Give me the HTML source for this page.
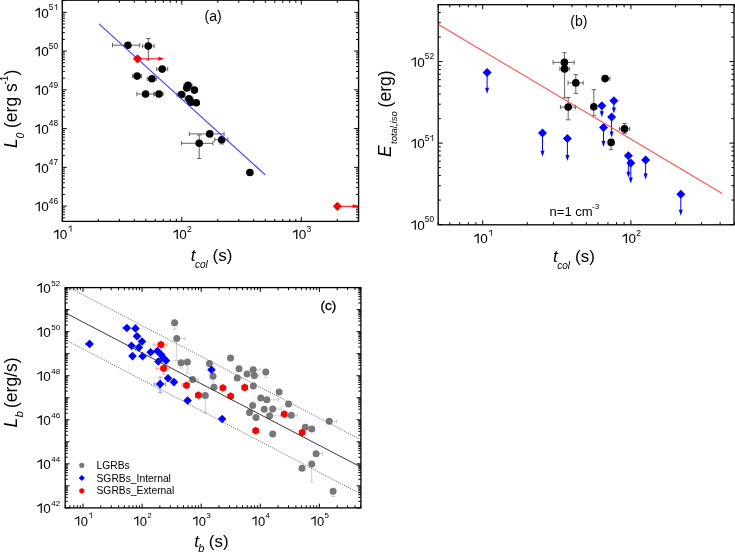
<!DOCTYPE html>
<html><head><meta charset="utf-8"><style>
html,body{margin:0;padding:0;background:#fff;}
svg{display:block;font-family:"Liberation Sans", sans-serif;will-change:transform;filter:blur(0.3px);}
</style></head><body>
<svg width="735" height="553" viewBox="0 0 735 553">
<rect width="735" height="553" fill="#fff"/>
<rect x="62.30" y="0.20" width="296.30" height="221.20" fill="none" stroke="#000" stroke-width="1.3"/>
<line x1="62.30" y1="221.40" x2="62.30" y2="216.90" stroke="#000" stroke-width="1" />
<line x1="62.30" y1="0.20" x2="62.30" y2="4.70" stroke="#000" stroke-width="1" />
<line x1="98.27" y1="221.40" x2="98.27" y2="218.80" stroke="#000" stroke-width="1" />
<line x1="98.27" y1="0.20" x2="98.27" y2="2.80" stroke="#000" stroke-width="1" />
<line x1="119.32" y1="221.40" x2="119.32" y2="218.80" stroke="#000" stroke-width="1" />
<line x1="119.32" y1="0.20" x2="119.32" y2="2.80" stroke="#000" stroke-width="1" />
<line x1="134.25" y1="221.40" x2="134.25" y2="218.80" stroke="#000" stroke-width="1" />
<line x1="134.25" y1="0.20" x2="134.25" y2="2.80" stroke="#000" stroke-width="1" />
<line x1="145.83" y1="221.40" x2="145.83" y2="218.80" stroke="#000" stroke-width="1" />
<line x1="145.83" y1="0.20" x2="145.83" y2="2.80" stroke="#000" stroke-width="1" />
<line x1="155.29" y1="221.40" x2="155.29" y2="218.80" stroke="#000" stroke-width="1" />
<line x1="155.29" y1="0.20" x2="155.29" y2="2.80" stroke="#000" stroke-width="1" />
<line x1="163.29" y1="221.40" x2="163.29" y2="218.80" stroke="#000" stroke-width="1" />
<line x1="163.29" y1="0.20" x2="163.29" y2="2.80" stroke="#000" stroke-width="1" />
<line x1="170.22" y1="221.40" x2="170.22" y2="218.80" stroke="#000" stroke-width="1" />
<line x1="170.22" y1="0.20" x2="170.22" y2="2.80" stroke="#000" stroke-width="1" />
<line x1="176.33" y1="221.40" x2="176.33" y2="218.80" stroke="#000" stroke-width="1" />
<line x1="176.33" y1="0.20" x2="176.33" y2="2.80" stroke="#000" stroke-width="1" />
<line x1="181.80" y1="221.40" x2="181.80" y2="216.90" stroke="#000" stroke-width="1" />
<line x1="181.80" y1="0.20" x2="181.80" y2="4.70" stroke="#000" stroke-width="1" />
<line x1="217.77" y1="221.40" x2="217.77" y2="218.80" stroke="#000" stroke-width="1" />
<line x1="217.77" y1="0.20" x2="217.77" y2="2.80" stroke="#000" stroke-width="1" />
<line x1="238.82" y1="221.40" x2="238.82" y2="218.80" stroke="#000" stroke-width="1" />
<line x1="238.82" y1="0.20" x2="238.82" y2="2.80" stroke="#000" stroke-width="1" />
<line x1="253.75" y1="221.40" x2="253.75" y2="218.80" stroke="#000" stroke-width="1" />
<line x1="253.75" y1="0.20" x2="253.75" y2="2.80" stroke="#000" stroke-width="1" />
<line x1="265.33" y1="221.40" x2="265.33" y2="218.80" stroke="#000" stroke-width="1" />
<line x1="265.33" y1="0.20" x2="265.33" y2="2.80" stroke="#000" stroke-width="1" />
<line x1="274.79" y1="221.40" x2="274.79" y2="218.80" stroke="#000" stroke-width="1" />
<line x1="274.79" y1="0.20" x2="274.79" y2="2.80" stroke="#000" stroke-width="1" />
<line x1="282.79" y1="221.40" x2="282.79" y2="218.80" stroke="#000" stroke-width="1" />
<line x1="282.79" y1="0.20" x2="282.79" y2="2.80" stroke="#000" stroke-width="1" />
<line x1="289.72" y1="221.40" x2="289.72" y2="218.80" stroke="#000" stroke-width="1" />
<line x1="289.72" y1="0.20" x2="289.72" y2="2.80" stroke="#000" stroke-width="1" />
<line x1="295.83" y1="221.40" x2="295.83" y2="218.80" stroke="#000" stroke-width="1" />
<line x1="295.83" y1="0.20" x2="295.83" y2="2.80" stroke="#000" stroke-width="1" />
<line x1="301.30" y1="221.40" x2="301.30" y2="216.90" stroke="#000" stroke-width="1" />
<line x1="301.30" y1="0.20" x2="301.30" y2="4.70" stroke="#000" stroke-width="1" />
<line x1="337.27" y1="221.40" x2="337.27" y2="218.80" stroke="#000" stroke-width="1" />
<line x1="337.27" y1="0.20" x2="337.27" y2="2.80" stroke="#000" stroke-width="1" />
<line x1="358.32" y1="221.40" x2="358.32" y2="218.80" stroke="#000" stroke-width="1" />
<line x1="358.32" y1="0.20" x2="358.32" y2="2.80" stroke="#000" stroke-width="1" />
<line x1="62.30" y1="217.77" x2="64.90" y2="217.77" stroke="#000" stroke-width="1" />
<line x1="358.60" y1="217.77" x2="356.00" y2="217.77" stroke="#000" stroke-width="1" />
<line x1="62.30" y1="214.70" x2="64.90" y2="214.70" stroke="#000" stroke-width="1" />
<line x1="358.60" y1="214.70" x2="356.00" y2="214.70" stroke="#000" stroke-width="1" />
<line x1="62.30" y1="212.10" x2="64.90" y2="212.10" stroke="#000" stroke-width="1" />
<line x1="358.60" y1="212.10" x2="356.00" y2="212.10" stroke="#000" stroke-width="1" />
<line x1="62.30" y1="209.86" x2="64.90" y2="209.86" stroke="#000" stroke-width="1" />
<line x1="358.60" y1="209.86" x2="356.00" y2="209.86" stroke="#000" stroke-width="1" />
<line x1="62.30" y1="207.87" x2="64.90" y2="207.87" stroke="#000" stroke-width="1" />
<line x1="358.60" y1="207.87" x2="356.00" y2="207.87" stroke="#000" stroke-width="1" />
<line x1="62.30" y1="206.10" x2="66.70" y2="206.10" stroke="#000" stroke-width="1" />
<line x1="358.60" y1="206.10" x2="354.20" y2="206.10" stroke="#000" stroke-width="1" />
<line x1="62.30" y1="194.43" x2="64.90" y2="194.43" stroke="#000" stroke-width="1" />
<line x1="358.60" y1="194.43" x2="356.00" y2="194.43" stroke="#000" stroke-width="1" />
<line x1="62.30" y1="187.61" x2="64.90" y2="187.61" stroke="#000" stroke-width="1" />
<line x1="358.60" y1="187.61" x2="356.00" y2="187.61" stroke="#000" stroke-width="1" />
<line x1="62.30" y1="182.76" x2="64.90" y2="182.76" stroke="#000" stroke-width="1" />
<line x1="358.60" y1="182.76" x2="356.00" y2="182.76" stroke="#000" stroke-width="1" />
<line x1="62.30" y1="179.01" x2="64.90" y2="179.01" stroke="#000" stroke-width="1" />
<line x1="358.60" y1="179.01" x2="356.00" y2="179.01" stroke="#000" stroke-width="1" />
<line x1="62.30" y1="175.94" x2="64.90" y2="175.94" stroke="#000" stroke-width="1" />
<line x1="358.60" y1="175.94" x2="356.00" y2="175.94" stroke="#000" stroke-width="1" />
<line x1="62.30" y1="173.34" x2="64.90" y2="173.34" stroke="#000" stroke-width="1" />
<line x1="358.60" y1="173.34" x2="356.00" y2="173.34" stroke="#000" stroke-width="1" />
<line x1="62.30" y1="171.10" x2="64.90" y2="171.10" stroke="#000" stroke-width="1" />
<line x1="358.60" y1="171.10" x2="356.00" y2="171.10" stroke="#000" stroke-width="1" />
<line x1="62.30" y1="169.11" x2="64.90" y2="169.11" stroke="#000" stroke-width="1" />
<line x1="358.60" y1="169.11" x2="356.00" y2="169.11" stroke="#000" stroke-width="1" />
<line x1="62.30" y1="167.34" x2="66.70" y2="167.34" stroke="#000" stroke-width="1" />
<line x1="358.60" y1="167.34" x2="354.20" y2="167.34" stroke="#000" stroke-width="1" />
<line x1="62.30" y1="155.67" x2="64.90" y2="155.67" stroke="#000" stroke-width="1" />
<line x1="358.60" y1="155.67" x2="356.00" y2="155.67" stroke="#000" stroke-width="1" />
<line x1="62.30" y1="148.85" x2="64.90" y2="148.85" stroke="#000" stroke-width="1" />
<line x1="358.60" y1="148.85" x2="356.00" y2="148.85" stroke="#000" stroke-width="1" />
<line x1="62.30" y1="144.00" x2="64.90" y2="144.00" stroke="#000" stroke-width="1" />
<line x1="358.60" y1="144.00" x2="356.00" y2="144.00" stroke="#000" stroke-width="1" />
<line x1="62.30" y1="140.25" x2="64.90" y2="140.25" stroke="#000" stroke-width="1" />
<line x1="358.60" y1="140.25" x2="356.00" y2="140.25" stroke="#000" stroke-width="1" />
<line x1="62.30" y1="137.18" x2="64.90" y2="137.18" stroke="#000" stroke-width="1" />
<line x1="358.60" y1="137.18" x2="356.00" y2="137.18" stroke="#000" stroke-width="1" />
<line x1="62.30" y1="134.58" x2="64.90" y2="134.58" stroke="#000" stroke-width="1" />
<line x1="358.60" y1="134.58" x2="356.00" y2="134.58" stroke="#000" stroke-width="1" />
<line x1="62.30" y1="132.34" x2="64.90" y2="132.34" stroke="#000" stroke-width="1" />
<line x1="358.60" y1="132.34" x2="356.00" y2="132.34" stroke="#000" stroke-width="1" />
<line x1="62.30" y1="130.35" x2="64.90" y2="130.35" stroke="#000" stroke-width="1" />
<line x1="358.60" y1="130.35" x2="356.00" y2="130.35" stroke="#000" stroke-width="1" />
<line x1="62.30" y1="128.58" x2="66.70" y2="128.58" stroke="#000" stroke-width="1" />
<line x1="358.60" y1="128.58" x2="354.20" y2="128.58" stroke="#000" stroke-width="1" />
<line x1="62.30" y1="116.91" x2="64.90" y2="116.91" stroke="#000" stroke-width="1" />
<line x1="358.60" y1="116.91" x2="356.00" y2="116.91" stroke="#000" stroke-width="1" />
<line x1="62.30" y1="110.09" x2="64.90" y2="110.09" stroke="#000" stroke-width="1" />
<line x1="358.60" y1="110.09" x2="356.00" y2="110.09" stroke="#000" stroke-width="1" />
<line x1="62.30" y1="105.24" x2="64.90" y2="105.24" stroke="#000" stroke-width="1" />
<line x1="358.60" y1="105.24" x2="356.00" y2="105.24" stroke="#000" stroke-width="1" />
<line x1="62.30" y1="101.49" x2="64.90" y2="101.49" stroke="#000" stroke-width="1" />
<line x1="358.60" y1="101.49" x2="356.00" y2="101.49" stroke="#000" stroke-width="1" />
<line x1="62.30" y1="98.42" x2="64.90" y2="98.42" stroke="#000" stroke-width="1" />
<line x1="358.60" y1="98.42" x2="356.00" y2="98.42" stroke="#000" stroke-width="1" />
<line x1="62.30" y1="95.82" x2="64.90" y2="95.82" stroke="#000" stroke-width="1" />
<line x1="358.60" y1="95.82" x2="356.00" y2="95.82" stroke="#000" stroke-width="1" />
<line x1="62.30" y1="93.58" x2="64.90" y2="93.58" stroke="#000" stroke-width="1" />
<line x1="358.60" y1="93.58" x2="356.00" y2="93.58" stroke="#000" stroke-width="1" />
<line x1="62.30" y1="91.59" x2="64.90" y2="91.59" stroke="#000" stroke-width="1" />
<line x1="358.60" y1="91.59" x2="356.00" y2="91.59" stroke="#000" stroke-width="1" />
<line x1="62.30" y1="89.82" x2="66.70" y2="89.82" stroke="#000" stroke-width="1" />
<line x1="358.60" y1="89.82" x2="354.20" y2="89.82" stroke="#000" stroke-width="1" />
<line x1="62.30" y1="78.15" x2="64.90" y2="78.15" stroke="#000" stroke-width="1" />
<line x1="358.60" y1="78.15" x2="356.00" y2="78.15" stroke="#000" stroke-width="1" />
<line x1="62.30" y1="71.33" x2="64.90" y2="71.33" stroke="#000" stroke-width="1" />
<line x1="358.60" y1="71.33" x2="356.00" y2="71.33" stroke="#000" stroke-width="1" />
<line x1="62.30" y1="66.48" x2="64.90" y2="66.48" stroke="#000" stroke-width="1" />
<line x1="358.60" y1="66.48" x2="356.00" y2="66.48" stroke="#000" stroke-width="1" />
<line x1="62.30" y1="62.73" x2="64.90" y2="62.73" stroke="#000" stroke-width="1" />
<line x1="358.60" y1="62.73" x2="356.00" y2="62.73" stroke="#000" stroke-width="1" />
<line x1="62.30" y1="59.66" x2="64.90" y2="59.66" stroke="#000" stroke-width="1" />
<line x1="358.60" y1="59.66" x2="356.00" y2="59.66" stroke="#000" stroke-width="1" />
<line x1="62.30" y1="57.06" x2="64.90" y2="57.06" stroke="#000" stroke-width="1" />
<line x1="358.60" y1="57.06" x2="356.00" y2="57.06" stroke="#000" stroke-width="1" />
<line x1="62.30" y1="54.82" x2="64.90" y2="54.82" stroke="#000" stroke-width="1" />
<line x1="358.60" y1="54.82" x2="356.00" y2="54.82" stroke="#000" stroke-width="1" />
<line x1="62.30" y1="52.83" x2="64.90" y2="52.83" stroke="#000" stroke-width="1" />
<line x1="358.60" y1="52.83" x2="356.00" y2="52.83" stroke="#000" stroke-width="1" />
<line x1="62.30" y1="51.06" x2="66.70" y2="51.06" stroke="#000" stroke-width="1" />
<line x1="358.60" y1="51.06" x2="354.20" y2="51.06" stroke="#000" stroke-width="1" />
<line x1="62.30" y1="39.39" x2="64.90" y2="39.39" stroke="#000" stroke-width="1" />
<line x1="358.60" y1="39.39" x2="356.00" y2="39.39" stroke="#000" stroke-width="1" />
<line x1="62.30" y1="32.57" x2="64.90" y2="32.57" stroke="#000" stroke-width="1" />
<line x1="358.60" y1="32.57" x2="356.00" y2="32.57" stroke="#000" stroke-width="1" />
<line x1="62.30" y1="27.72" x2="64.90" y2="27.72" stroke="#000" stroke-width="1" />
<line x1="358.60" y1="27.72" x2="356.00" y2="27.72" stroke="#000" stroke-width="1" />
<line x1="62.30" y1="23.97" x2="64.90" y2="23.97" stroke="#000" stroke-width="1" />
<line x1="358.60" y1="23.97" x2="356.00" y2="23.97" stroke="#000" stroke-width="1" />
<line x1="62.30" y1="20.90" x2="64.90" y2="20.90" stroke="#000" stroke-width="1" />
<line x1="358.60" y1="20.90" x2="356.00" y2="20.90" stroke="#000" stroke-width="1" />
<line x1="62.30" y1="18.30" x2="64.90" y2="18.30" stroke="#000" stroke-width="1" />
<line x1="358.60" y1="18.30" x2="356.00" y2="18.30" stroke="#000" stroke-width="1" />
<line x1="62.30" y1="16.06" x2="64.90" y2="16.06" stroke="#000" stroke-width="1" />
<line x1="358.60" y1="16.06" x2="356.00" y2="16.06" stroke="#000" stroke-width="1" />
<line x1="62.30" y1="14.07" x2="64.90" y2="14.07" stroke="#000" stroke-width="1" />
<line x1="358.60" y1="14.07" x2="356.00" y2="14.07" stroke="#000" stroke-width="1" />
<line x1="62.30" y1="12.30" x2="66.70" y2="12.30" stroke="#000" stroke-width="1" />
<line x1="358.60" y1="12.30" x2="354.20" y2="12.30" stroke="#000" stroke-width="1" />
<line x1="62.30" y1="0.63" x2="64.90" y2="0.63" stroke="#000" stroke-width="1" />
<line x1="358.60" y1="0.63" x2="356.00" y2="0.63" stroke="#000" stroke-width="1" />
<path d="M58.36 239.10L57.14 239.10L57.14 231.13C56.33 231.88 54.98 232.48 53.75 232.78L53.75 231.61C55.52 231.00 56.74 230.06 57.55 229.43L58.36 229.43Z" fill="#000"/>
<text x="59.79" y="239.10" font-size="13.5" text-anchor="start" font-style="normal" font-weight="normal" fill="#000" >0</text>
<path d="M71.42 231.70L70.65 231.70L70.65 226.69C70.14 227.15 69.29 227.53 68.52 227.72L68.52 226.98C69.63 226.60 70.40 226.00 70.91 225.61L71.42 225.61Z" fill="#000"/>
<path d="M177.86 239.10L176.64 239.10L176.64 231.13C175.83 231.88 174.48 232.48 173.25 232.78L173.25 231.61C175.02 231.00 176.24 230.06 177.05 229.43L177.86 229.43Z" fill="#000"/>
<text x="179.29" y="239.10" font-size="13.5" text-anchor="start" font-style="normal" font-weight="normal" fill="#000" >0</text>
<text x="187.09" y="231.70" font-size="8.5" text-anchor="start" font-style="normal" font-weight="normal" fill="#000" >2</text>
<path d="M297.36 239.10L296.14 239.10L296.14 231.13C295.33 231.88 293.98 232.48 292.75 232.78L292.75 231.61C294.52 231.00 295.74 230.06 296.55 229.43L297.36 229.43Z" fill="#000"/>
<text x="298.79" y="239.10" font-size="13.5" text-anchor="start" font-style="normal" font-weight="normal" fill="#000" >0</text>
<text x="306.59" y="231.70" font-size="8.5" text-anchor="start" font-style="normal" font-weight="normal" fill="#000" >3</text>
<path d="M39.83 211.30L38.62 211.30L38.62 203.33C37.81 204.08 36.46 204.68 35.23 204.98L35.23 203.81C37.00 203.20 38.21 202.25 39.02 201.63L39.83 201.63Z" fill="#000"/>
<text x="41.26" y="211.30" font-size="13.5" text-anchor="start" font-style="normal" font-weight="normal" fill="#000" >0</text>
<text x="48.77" y="203.90" font-size="8.3" text-anchor="start" font-style="normal" font-weight="normal" fill="#000" >4</text>
<text x="53.39" y="203.90" font-size="8.3" text-anchor="start" font-style="normal" font-weight="normal" fill="#000" >6</text>
<path d="M39.83 172.54L38.62 172.54L38.62 164.57C37.81 165.32 36.46 165.92 35.23 166.22L35.23 165.05C37.00 164.44 38.21 163.50 39.02 162.87L39.83 162.87Z" fill="#000"/>
<text x="41.26" y="172.54" font-size="13.5" text-anchor="start" font-style="normal" font-weight="normal" fill="#000" >0</text>
<text x="48.77" y="165.14" font-size="8.3" text-anchor="start" font-style="normal" font-weight="normal" fill="#000" >4</text>
<text x="53.39" y="165.14" font-size="8.3" text-anchor="start" font-style="normal" font-weight="normal" fill="#000" >7</text>
<path d="M39.83 133.78L38.62 133.78L38.62 125.81C37.81 126.56 36.46 127.16 35.23 127.46L35.23 126.29C37.00 125.68 38.21 124.73 39.02 124.11L39.83 124.11Z" fill="#000"/>
<text x="41.26" y="133.78" font-size="13.5" text-anchor="start" font-style="normal" font-weight="normal" fill="#000" >0</text>
<text x="48.77" y="126.38" font-size="8.3" text-anchor="start" font-style="normal" font-weight="normal" fill="#000" >4</text>
<text x="53.39" y="126.38" font-size="8.3" text-anchor="start" font-style="normal" font-weight="normal" fill="#000" >8</text>
<path d="M39.83 95.02L38.62 95.02L38.62 87.05C37.81 87.80 36.46 88.41 35.23 88.70L35.23 87.53C37.00 86.92 38.21 85.97 39.02 85.35L39.83 85.35Z" fill="#000"/>
<text x="41.26" y="95.02" font-size="13.5" text-anchor="start" font-style="normal" font-weight="normal" fill="#000" >0</text>
<text x="48.77" y="87.62" font-size="8.3" text-anchor="start" font-style="normal" font-weight="normal" fill="#000" >4</text>
<text x="53.39" y="87.62" font-size="8.3" text-anchor="start" font-style="normal" font-weight="normal" fill="#000" >9</text>
<path d="M39.83 56.26L38.62 56.26L38.62 48.30C37.81 49.04 36.46 49.65 35.23 49.94L35.23 48.77C37.00 48.16 38.21 47.22 39.02 46.59L39.83 46.59Z" fill="#000"/>
<text x="41.26" y="56.26" font-size="13.5" text-anchor="start" font-style="normal" font-weight="normal" fill="#000" >0</text>
<text x="48.77" y="48.86" font-size="8.3" text-anchor="start" font-style="normal" font-weight="normal" fill="#000" >5</text>
<text x="53.39" y="48.86" font-size="8.3" text-anchor="start" font-style="normal" font-weight="normal" fill="#000" >0</text>
<path d="M39.83 17.50L38.62 17.50L38.62 9.54C37.81 10.28 36.46 10.89 35.23 11.18L35.23 10.01C37.00 9.40 38.21 8.46 39.02 7.83L39.83 7.83Z" fill="#000"/>
<text x="41.26" y="17.50" font-size="13.5" text-anchor="start" font-style="normal" font-weight="normal" fill="#000" >0</text>
<text x="48.77" y="10.10" font-size="8.3" text-anchor="start" font-style="normal" font-weight="normal" fill="#000" >5</text>
<path d="M57.12 10.10L56.37 10.10L56.37 5.20C55.88 5.66 55.05 6.03 54.29 6.22L54.29 5.49C55.38 5.12 56.12 4.54 56.62 4.16L57.12 4.16Z" fill="#000"/>
<text x="213.10" y="21.40" font-size="14" text-anchor="middle" font-style="normal" font-weight="normal" fill="#000" >(a)</text>
<line x1="112.50" y1="45.20" x2="139.60" y2="45.20" stroke="#555" stroke-width="0.9" />
<line x1="112.50" y1="43.00" x2="112.50" y2="47.40" stroke="#555" stroke-width="0.9" />
<line x1="139.60" y1="43.00" x2="139.60" y2="47.40" stroke="#555" stroke-width="0.9" />
<line x1="142.40" y1="46.10" x2="154.10" y2="46.10" stroke="#555" stroke-width="0.9" />
<line x1="142.40" y1="43.90" x2="142.40" y2="48.30" stroke="#555" stroke-width="0.9" />
<line x1="154.10" y1="43.90" x2="154.10" y2="48.30" stroke="#555" stroke-width="0.9" />
<line x1="148.30" y1="38.60" x2="148.30" y2="60.00" stroke="#555" stroke-width="0.9" />
<line x1="146.10" y1="38.60" x2="150.50" y2="38.60" stroke="#555" stroke-width="0.9" />
<line x1="146.10" y1="60.00" x2="150.50" y2="60.00" stroke="#555" stroke-width="0.9" />
<line x1="156.80" y1="69.10" x2="167.70" y2="69.10" stroke="#555" stroke-width="0.9" />
<line x1="156.80" y1="66.90" x2="156.80" y2="71.30" stroke="#555" stroke-width="0.9" />
<line x1="167.70" y1="66.90" x2="167.70" y2="71.30" stroke="#555" stroke-width="0.9" />
<line x1="132.40" y1="76.10" x2="141.40" y2="76.10" stroke="#555" stroke-width="0.9" />
<line x1="132.40" y1="73.90" x2="132.40" y2="78.30" stroke="#555" stroke-width="0.9" />
<line x1="141.40" y1="73.90" x2="141.40" y2="78.30" stroke="#555" stroke-width="0.9" />
<line x1="147.20" y1="78.70" x2="156.30" y2="78.70" stroke="#555" stroke-width="0.9" />
<line x1="147.20" y1="76.50" x2="147.20" y2="80.90" stroke="#555" stroke-width="0.9" />
<line x1="156.30" y1="76.50" x2="156.30" y2="80.90" stroke="#555" stroke-width="0.9" />
<line x1="136.90" y1="94.00" x2="154.10" y2="94.00" stroke="#555" stroke-width="0.9" />
<line x1="136.90" y1="91.80" x2="136.90" y2="96.20" stroke="#555" stroke-width="0.9" />
<line x1="154.10" y1="91.80" x2="154.10" y2="96.20" stroke="#555" stroke-width="0.9" />
<line x1="154.10" y1="94.00" x2="163.10" y2="94.00" stroke="#555" stroke-width="0.9" />
<line x1="154.10" y1="91.80" x2="154.10" y2="96.20" stroke="#555" stroke-width="0.9" />
<line x1="163.10" y1="91.80" x2="163.10" y2="96.20" stroke="#555" stroke-width="0.9" />
<line x1="184.00" y1="85.40" x2="192.00" y2="85.40" stroke="#555" stroke-width="0.9" />
<line x1="184.00" y1="83.20" x2="184.00" y2="87.60" stroke="#555" stroke-width="0.9" />
<line x1="192.00" y1="83.20" x2="192.00" y2="87.60" stroke="#555" stroke-width="0.9" />
<line x1="177.00" y1="94.60" x2="185.00" y2="94.60" stroke="#555" stroke-width="0.9" />
<line x1="177.00" y1="92.40" x2="177.00" y2="96.80" stroke="#555" stroke-width="0.9" />
<line x1="185.00" y1="92.40" x2="185.00" y2="96.80" stroke="#555" stroke-width="0.9" />
<line x1="185.00" y1="98.70" x2="193.00" y2="98.70" stroke="#555" stroke-width="0.9" />
<line x1="185.00" y1="96.50" x2="185.00" y2="100.90" stroke="#555" stroke-width="0.9" />
<line x1="193.00" y1="96.50" x2="193.00" y2="100.90" stroke="#555" stroke-width="0.9" />
<line x1="189.40" y1="133.90" x2="224.10" y2="133.90" stroke="#555" stroke-width="0.9" />
<line x1="189.40" y1="131.70" x2="189.40" y2="136.10" stroke="#555" stroke-width="0.9" />
<line x1="224.10" y1="131.70" x2="224.10" y2="136.10" stroke="#555" stroke-width="0.9" />
<line x1="181.40" y1="143.30" x2="213.00" y2="143.30" stroke="#555" stroke-width="0.9" />
<line x1="181.40" y1="141.10" x2="181.40" y2="145.50" stroke="#555" stroke-width="0.9" />
<line x1="213.00" y1="141.10" x2="213.00" y2="145.50" stroke="#555" stroke-width="0.9" />
<line x1="199.20" y1="135.00" x2="199.20" y2="158.50" stroke="#555" stroke-width="0.9" />
<line x1="197.00" y1="135.00" x2="201.40" y2="135.00" stroke="#555" stroke-width="0.9" />
<line x1="197.00" y1="158.50" x2="201.40" y2="158.50" stroke="#555" stroke-width="0.9" />
<line x1="214.70" y1="139.70" x2="227.80" y2="139.70" stroke="#555" stroke-width="0.9" />
<line x1="214.70" y1="137.50" x2="214.70" y2="141.90" stroke="#555" stroke-width="0.9" />
<line x1="227.80" y1="137.50" x2="227.80" y2="141.90" stroke="#555" stroke-width="0.9" />
<line x1="221.70" y1="137.50" x2="221.70" y2="144.00" stroke="#555" stroke-width="0.9" />
<line x1="219.50" y1="137.50" x2="223.90" y2="137.50" stroke="#555" stroke-width="0.9" />
<line x1="219.50" y1="144.00" x2="223.90" y2="144.00" stroke="#555" stroke-width="0.9" />
<circle cx="127.90" cy="45.20" r="3.8" fill="#000"/>
<circle cx="148.30" cy="46.10" r="3.8" fill="#000"/>
<circle cx="162.20" cy="69.10" r="3.8" fill="#000"/>
<circle cx="137.10" cy="76.10" r="3.8" fill="#000"/>
<circle cx="151.90" cy="78.70" r="3.8" fill="#000"/>
<circle cx="145.60" cy="94.00" r="3.8" fill="#000"/>
<circle cx="159.00" cy="94.00" r="3.8" fill="#000"/>
<circle cx="188.00" cy="85.40" r="3.8" fill="#000"/>
<circle cx="186.80" cy="88.00" r="3.8" fill="#000"/>
<circle cx="194.40" cy="90.10" r="3.8" fill="#000"/>
<circle cx="181.40" cy="94.60" r="3.8" fill="#000"/>
<circle cx="189.00" cy="98.70" r="3.8" fill="#000"/>
<circle cx="190.90" cy="102.20" r="3.8" fill="#000"/>
<circle cx="196.30" cy="102.80" r="3.8" fill="#000"/>
<circle cx="209.70" cy="133.90" r="3.8" fill="#000"/>
<circle cx="199.20" cy="143.30" r="3.8" fill="#000"/>
<circle cx="221.70" cy="139.70" r="3.8" fill="#000"/>
<circle cx="249.90" cy="172.50" r="3.8" fill="#000"/>
<line x1="99.00" y1="23.90" x2="265.10" y2="174.70" stroke="#4040ff" stroke-width="1.15" />
<line x1="137.50" y1="58.80" x2="160.30" y2="58.80" stroke="#ff0000" stroke-width="1" />
<path d="M164.30 58.80L158.30 56.80L158.30 60.80Z" fill="#ff0000"/>
<path d="M137.50 54.20L142.10 58.80L137.50 63.40L132.90 58.80Z" fill="#ff0000"/>
<line x1="337.40" y1="206.30" x2="354.60" y2="206.30" stroke="#ff0000" stroke-width="1" />
<path d="M358.60 206.30L352.60 204.30L352.60 208.30Z" fill="#ff0000"/>
<path d="M337.40 201.70L342.00 206.30L337.40 210.90L332.80 206.30Z" fill="#ff0000"/>
<text x="190.80" y="260.50" font-size="17" text-anchor="start" font-style="italic" font-weight="normal" fill="#000" >t</text>
<text x="194.90" y="267.50" font-size="10" text-anchor="start" font-style="italic" font-weight="normal" fill="#000" >col</text>
<text x="212.50" y="260.50" font-size="17" text-anchor="start" font-style="normal" font-weight="normal" fill="#000" >(s)</text>
<g transform="translate(16.6,148) rotate(-90)"><text x="0" y="0" font-size="17.5" font-style="italic">L</text><text x="9.5" y="7" font-size="10.5" font-style="italic">0</text><text x="20" y="0" font-size="17.5">(erg s</text><text x="63.5" y="-9" font-size="10">-1</text><text x="72.5" y="0" font-size="17.5">)</text></g>
<rect x="438.20" y="4.70" width="295.80" height="220.10" fill="none" stroke="#000" stroke-width="1.3"/>
<line x1="438.09" y1="224.80" x2="438.09" y2="222.20" stroke="#000" stroke-width="1" />
<line x1="438.09" y1="4.70" x2="438.09" y2="7.30" stroke="#000" stroke-width="1" />
<line x1="449.82" y1="224.80" x2="449.82" y2="222.20" stroke="#000" stroke-width="1" />
<line x1="449.82" y1="4.70" x2="449.82" y2="7.30" stroke="#000" stroke-width="1" />
<line x1="459.74" y1="224.80" x2="459.74" y2="222.20" stroke="#000" stroke-width="1" />
<line x1="459.74" y1="4.70" x2="459.74" y2="7.30" stroke="#000" stroke-width="1" />
<line x1="468.34" y1="224.80" x2="468.34" y2="222.20" stroke="#000" stroke-width="1" />
<line x1="468.34" y1="4.70" x2="468.34" y2="7.30" stroke="#000" stroke-width="1" />
<line x1="475.92" y1="224.80" x2="475.92" y2="222.20" stroke="#000" stroke-width="1" />
<line x1="475.92" y1="4.70" x2="475.92" y2="7.30" stroke="#000" stroke-width="1" />
<line x1="482.70" y1="224.80" x2="482.70" y2="220.30" stroke="#000" stroke-width="1" />
<line x1="482.70" y1="4.70" x2="482.70" y2="9.20" stroke="#000" stroke-width="1" />
<line x1="527.31" y1="224.80" x2="527.31" y2="222.20" stroke="#000" stroke-width="1" />
<line x1="527.31" y1="4.70" x2="527.31" y2="7.30" stroke="#000" stroke-width="1" />
<line x1="553.41" y1="224.80" x2="553.41" y2="222.20" stroke="#000" stroke-width="1" />
<line x1="553.41" y1="4.70" x2="553.41" y2="7.30" stroke="#000" stroke-width="1" />
<line x1="571.93" y1="224.80" x2="571.93" y2="222.20" stroke="#000" stroke-width="1" />
<line x1="571.93" y1="4.70" x2="571.93" y2="7.30" stroke="#000" stroke-width="1" />
<line x1="586.29" y1="224.80" x2="586.29" y2="222.20" stroke="#000" stroke-width="1" />
<line x1="586.29" y1="4.70" x2="586.29" y2="7.30" stroke="#000" stroke-width="1" />
<line x1="598.02" y1="224.80" x2="598.02" y2="222.20" stroke="#000" stroke-width="1" />
<line x1="598.02" y1="4.70" x2="598.02" y2="7.30" stroke="#000" stroke-width="1" />
<line x1="607.94" y1="224.80" x2="607.94" y2="222.20" stroke="#000" stroke-width="1" />
<line x1="607.94" y1="4.70" x2="607.94" y2="7.30" stroke="#000" stroke-width="1" />
<line x1="616.54" y1="224.80" x2="616.54" y2="222.20" stroke="#000" stroke-width="1" />
<line x1="616.54" y1="4.70" x2="616.54" y2="7.30" stroke="#000" stroke-width="1" />
<line x1="624.12" y1="224.80" x2="624.12" y2="222.20" stroke="#000" stroke-width="1" />
<line x1="624.12" y1="4.70" x2="624.12" y2="7.30" stroke="#000" stroke-width="1" />
<line x1="630.90" y1="224.80" x2="630.90" y2="220.30" stroke="#000" stroke-width="1" />
<line x1="630.90" y1="4.70" x2="630.90" y2="9.20" stroke="#000" stroke-width="1" />
<line x1="675.51" y1="224.80" x2="675.51" y2="222.20" stroke="#000" stroke-width="1" />
<line x1="675.51" y1="4.70" x2="675.51" y2="7.30" stroke="#000" stroke-width="1" />
<line x1="701.61" y1="224.80" x2="701.61" y2="222.20" stroke="#000" stroke-width="1" />
<line x1="701.61" y1="4.70" x2="701.61" y2="7.30" stroke="#000" stroke-width="1" />
<line x1="720.13" y1="224.80" x2="720.13" y2="222.20" stroke="#000" stroke-width="1" />
<line x1="720.13" y1="4.70" x2="720.13" y2="7.30" stroke="#000" stroke-width="1" />
<line x1="734.49" y1="224.80" x2="734.49" y2="222.20" stroke="#000" stroke-width="1" />
<line x1="734.49" y1="4.70" x2="734.49" y2="7.30" stroke="#000" stroke-width="1" />
<line x1="438.20" y1="224.60" x2="442.70" y2="224.60" stroke="#000" stroke-width="1" />
<line x1="734.00" y1="224.60" x2="729.50" y2="224.60" stroke="#000" stroke-width="1" />
<line x1="438.20" y1="200.07" x2="440.80" y2="200.07" stroke="#000" stroke-width="1" />
<line x1="734.00" y1="200.07" x2="731.40" y2="200.07" stroke="#000" stroke-width="1" />
<line x1="438.20" y1="185.71" x2="440.80" y2="185.71" stroke="#000" stroke-width="1" />
<line x1="734.00" y1="185.71" x2="731.40" y2="185.71" stroke="#000" stroke-width="1" />
<line x1="438.20" y1="175.53" x2="440.80" y2="175.53" stroke="#000" stroke-width="1" />
<line x1="734.00" y1="175.53" x2="731.40" y2="175.53" stroke="#000" stroke-width="1" />
<line x1="438.20" y1="167.63" x2="440.80" y2="167.63" stroke="#000" stroke-width="1" />
<line x1="734.00" y1="167.63" x2="731.40" y2="167.63" stroke="#000" stroke-width="1" />
<line x1="438.20" y1="161.18" x2="440.80" y2="161.18" stroke="#000" stroke-width="1" />
<line x1="734.00" y1="161.18" x2="731.40" y2="161.18" stroke="#000" stroke-width="1" />
<line x1="438.20" y1="155.72" x2="440.80" y2="155.72" stroke="#000" stroke-width="1" />
<line x1="734.00" y1="155.72" x2="731.40" y2="155.72" stroke="#000" stroke-width="1" />
<line x1="438.20" y1="151.00" x2="440.80" y2="151.00" stroke="#000" stroke-width="1" />
<line x1="734.00" y1="151.00" x2="731.40" y2="151.00" stroke="#000" stroke-width="1" />
<line x1="438.20" y1="146.83" x2="440.80" y2="146.83" stroke="#000" stroke-width="1" />
<line x1="734.00" y1="146.83" x2="731.40" y2="146.83" stroke="#000" stroke-width="1" />
<line x1="438.20" y1="143.10" x2="442.70" y2="143.10" stroke="#000" stroke-width="1" />
<line x1="734.00" y1="143.10" x2="729.50" y2="143.10" stroke="#000" stroke-width="1" />
<line x1="438.20" y1="118.57" x2="440.80" y2="118.57" stroke="#000" stroke-width="1" />
<line x1="734.00" y1="118.57" x2="731.40" y2="118.57" stroke="#000" stroke-width="1" />
<line x1="438.20" y1="104.21" x2="440.80" y2="104.21" stroke="#000" stroke-width="1" />
<line x1="734.00" y1="104.21" x2="731.40" y2="104.21" stroke="#000" stroke-width="1" />
<line x1="438.20" y1="94.03" x2="440.80" y2="94.03" stroke="#000" stroke-width="1" />
<line x1="734.00" y1="94.03" x2="731.40" y2="94.03" stroke="#000" stroke-width="1" />
<line x1="438.20" y1="86.13" x2="440.80" y2="86.13" stroke="#000" stroke-width="1" />
<line x1="734.00" y1="86.13" x2="731.40" y2="86.13" stroke="#000" stroke-width="1" />
<line x1="438.20" y1="79.68" x2="440.80" y2="79.68" stroke="#000" stroke-width="1" />
<line x1="734.00" y1="79.68" x2="731.40" y2="79.68" stroke="#000" stroke-width="1" />
<line x1="438.20" y1="74.22" x2="440.80" y2="74.22" stroke="#000" stroke-width="1" />
<line x1="734.00" y1="74.22" x2="731.40" y2="74.22" stroke="#000" stroke-width="1" />
<line x1="438.20" y1="69.50" x2="440.80" y2="69.50" stroke="#000" stroke-width="1" />
<line x1="734.00" y1="69.50" x2="731.40" y2="69.50" stroke="#000" stroke-width="1" />
<line x1="438.20" y1="65.33" x2="440.80" y2="65.33" stroke="#000" stroke-width="1" />
<line x1="734.00" y1="65.33" x2="731.40" y2="65.33" stroke="#000" stroke-width="1" />
<line x1="438.20" y1="61.60" x2="442.70" y2="61.60" stroke="#000" stroke-width="1" />
<line x1="734.00" y1="61.60" x2="729.50" y2="61.60" stroke="#000" stroke-width="1" />
<line x1="438.20" y1="37.07" x2="440.80" y2="37.07" stroke="#000" stroke-width="1" />
<line x1="734.00" y1="37.07" x2="731.40" y2="37.07" stroke="#000" stroke-width="1" />
<line x1="438.20" y1="22.71" x2="440.80" y2="22.71" stroke="#000" stroke-width="1" />
<line x1="734.00" y1="22.71" x2="731.40" y2="22.71" stroke="#000" stroke-width="1" />
<line x1="438.20" y1="12.53" x2="440.80" y2="12.53" stroke="#000" stroke-width="1" />
<line x1="734.00" y1="12.53" x2="731.40" y2="12.53" stroke="#000" stroke-width="1" />
<line x1="438.20" y1="4.63" x2="440.80" y2="4.63" stroke="#000" stroke-width="1" />
<line x1="734.00" y1="4.63" x2="731.40" y2="4.63" stroke="#000" stroke-width="1" />
<path d="M478.76 243.20L477.54 243.20L477.54 235.23C476.73 235.98 475.38 236.58 474.15 236.88L474.15 235.71C475.92 235.10 477.14 234.16 477.95 233.53L478.76 233.53Z" fill="#000"/>
<text x="480.19" y="243.20" font-size="13.5" text-anchor="start" font-style="normal" font-weight="normal" fill="#000" >0</text>
<path d="M491.82 235.80L491.05 235.80L491.05 230.78C490.54 231.25 489.69 231.63 488.92 231.82L488.92 231.08C490.03 230.70 490.80 230.10 491.31 229.71L491.82 229.71Z" fill="#000"/>
<path d="M626.96 243.20L625.74 243.20L625.74 235.23C624.93 235.98 623.58 236.58 622.35 236.88L622.35 235.71C624.12 235.10 625.34 234.16 626.15 233.53L626.96 233.53Z" fill="#000"/>
<text x="628.39" y="243.20" font-size="13.5" text-anchor="start" font-style="normal" font-weight="normal" fill="#000" >0</text>
<text x="636.19" y="235.80" font-size="8.5" text-anchor="start" font-style="normal" font-weight="normal" fill="#000" >2</text>
<path d="M415.83 229.80L414.62 229.80L414.62 221.83C413.81 222.58 412.46 223.18 411.23 223.48L411.23 222.31C413.00 221.70 414.21 220.75 415.02 220.13L415.83 220.13Z" fill="#000"/>
<text x="417.26" y="229.80" font-size="13.5" text-anchor="start" font-style="normal" font-weight="normal" fill="#000" >0</text>
<text x="424.77" y="222.40" font-size="8.3" text-anchor="start" font-style="normal" font-weight="normal" fill="#000" >5</text>
<text x="429.39" y="222.40" font-size="8.3" text-anchor="start" font-style="normal" font-weight="normal" fill="#000" >0</text>
<path d="M415.83 148.30L414.62 148.30L414.62 140.33C413.81 141.08 412.46 141.68 411.23 141.98L411.23 140.81C413.00 140.20 414.21 139.25 415.02 138.63L415.83 138.63Z" fill="#000"/>
<text x="417.26" y="148.30" font-size="13.5" text-anchor="start" font-style="normal" font-weight="normal" fill="#000" >0</text>
<text x="424.77" y="140.90" font-size="8.3" text-anchor="start" font-style="normal" font-weight="normal" fill="#000" >5</text>
<path d="M433.12 140.90L432.37 140.90L432.37 136.00C431.88 136.46 431.05 136.83 430.29 137.02L430.29 136.29C431.38 135.92 432.12 135.34 432.62 134.96L433.12 134.96Z" fill="#000"/>
<path d="M415.83 66.80L414.62 66.80L414.62 58.83C413.81 59.58 412.46 60.18 411.23 60.48L411.23 59.31C413.00 58.70 414.21 57.75 415.02 57.13L415.83 57.13Z" fill="#000"/>
<text x="417.26" y="66.80" font-size="13.5" text-anchor="start" font-style="normal" font-weight="normal" fill="#000" >0</text>
<text x="424.77" y="59.40" font-size="8.3" text-anchor="start" font-style="normal" font-weight="normal" fill="#000" >5</text>
<text x="429.39" y="59.40" font-size="8.3" text-anchor="start" font-style="normal" font-weight="normal" fill="#000" >2</text>
<text x="578.80" y="26.00" font-size="14" text-anchor="middle" font-style="normal" font-weight="normal" fill="#000" >(b)</text>
<line x1="553.00" y1="62.40" x2="574.20" y2="62.40" stroke="#555" stroke-width="0.9" />
<line x1="553.00" y1="60.20" x2="553.00" y2="64.60" stroke="#555" stroke-width="0.9" />
<line x1="574.20" y1="60.20" x2="574.20" y2="64.60" stroke="#555" stroke-width="0.9" />
<line x1="564.40" y1="52.70" x2="564.40" y2="62.40" stroke="#555" stroke-width="0.9" />
<line x1="562.20" y1="52.70" x2="566.60" y2="52.70" stroke="#555" stroke-width="0.9" />
<line x1="562.20" y1="62.40" x2="566.60" y2="62.40" stroke="#555" stroke-width="0.9" />
<line x1="559.90" y1="68.90" x2="569.30" y2="68.90" stroke="#555" stroke-width="0.9" />
<line x1="559.90" y1="66.70" x2="559.90" y2="71.10" stroke="#555" stroke-width="0.9" />
<line x1="569.30" y1="66.70" x2="569.30" y2="71.10" stroke="#555" stroke-width="0.9" />
<line x1="564.60" y1="68.90" x2="564.60" y2="97.80" stroke="#555" stroke-width="0.9" />
<line x1="562.40" y1="68.90" x2="566.80" y2="68.90" stroke="#555" stroke-width="0.9" />
<line x1="562.40" y1="97.80" x2="566.80" y2="97.80" stroke="#555" stroke-width="0.9" />
<line x1="568.00" y1="82.90" x2="583.20" y2="82.90" stroke="#555" stroke-width="0.9" />
<line x1="568.00" y1="80.70" x2="568.00" y2="85.10" stroke="#555" stroke-width="0.9" />
<line x1="583.20" y1="80.70" x2="583.20" y2="85.10" stroke="#555" stroke-width="0.9" />
<line x1="575.80" y1="74.70" x2="575.80" y2="93.40" stroke="#555" stroke-width="0.9" />
<line x1="573.60" y1="74.70" x2="578.00" y2="74.70" stroke="#555" stroke-width="0.9" />
<line x1="573.60" y1="93.40" x2="578.00" y2="93.40" stroke="#555" stroke-width="0.9" />
<line x1="605.10" y1="78.60" x2="610.00" y2="78.60" stroke="#555" stroke-width="0.9" />
<line x1="605.10" y1="76.40" x2="605.10" y2="80.80" stroke="#555" stroke-width="0.9" />
<line x1="610.00" y1="76.40" x2="610.00" y2="80.80" stroke="#555" stroke-width="0.9" />
<line x1="560.40" y1="107.10" x2="575.50" y2="107.10" stroke="#555" stroke-width="0.9" />
<line x1="560.40" y1="104.90" x2="560.40" y2="109.30" stroke="#555" stroke-width="0.9" />
<line x1="575.50" y1="104.90" x2="575.50" y2="109.30" stroke="#555" stroke-width="0.9" />
<line x1="568.20" y1="97.50" x2="568.20" y2="119.80" stroke="#555" stroke-width="0.9" />
<line x1="566.00" y1="97.50" x2="570.40" y2="97.50" stroke="#555" stroke-width="0.9" />
<line x1="566.00" y1="119.80" x2="570.40" y2="119.80" stroke="#555" stroke-width="0.9" />
<line x1="593.80" y1="89.70" x2="593.80" y2="115.70" stroke="#555" stroke-width="0.9" />
<line x1="591.60" y1="89.70" x2="596.00" y2="89.70" stroke="#555" stroke-width="0.9" />
<line x1="591.60" y1="115.70" x2="596.00" y2="115.70" stroke="#555" stroke-width="0.9" />
<line x1="619.40" y1="128.90" x2="629.70" y2="128.90" stroke="#555" stroke-width="0.9" />
<line x1="619.40" y1="126.70" x2="619.40" y2="131.10" stroke="#555" stroke-width="0.9" />
<line x1="629.70" y1="126.70" x2="629.70" y2="131.10" stroke="#555" stroke-width="0.9" />
<line x1="624.50" y1="123.50" x2="624.50" y2="133.40" stroke="#555" stroke-width="0.9" />
<line x1="622.30" y1="123.50" x2="626.70" y2="123.50" stroke="#555" stroke-width="0.9" />
<line x1="622.30" y1="133.40" x2="626.70" y2="133.40" stroke="#555" stroke-width="0.9" />
<line x1="611.10" y1="142.40" x2="611.10" y2="149.70" stroke="#555" stroke-width="0.9" />
<line x1="608.90" y1="142.40" x2="613.30" y2="142.40" stroke="#555" stroke-width="0.9" />
<line x1="608.90" y1="149.70" x2="613.30" y2="149.70" stroke="#555" stroke-width="0.9" />
<circle cx="564.40" cy="62.40" r="3.8" fill="#000"/>
<circle cx="564.60" cy="68.90" r="3.8" fill="#000"/>
<circle cx="575.80" cy="82.90" r="3.8" fill="#000"/>
<circle cx="605.10" cy="78.60" r="3.8" fill="#000"/>
<circle cx="568.20" cy="107.10" r="3.8" fill="#000"/>
<circle cx="593.80" cy="106.80" r="3.8" fill="#000"/>
<circle cx="624.50" cy="128.90" r="3.8" fill="#000"/>
<circle cx="611.10" cy="142.40" r="3.8" fill="#000"/>
<line x1="487.10" y1="72.40" x2="487.10" y2="89.80" stroke="#0000ff" stroke-width="1" />
<path d="M487.10 93.80L485.10 87.80L489.10 87.80Z" fill="#0000ff"/>
<line x1="542.50" y1="132.90" x2="542.50" y2="152.80" stroke="#0000ff" stroke-width="1" />
<path d="M542.50 156.80L540.50 150.80L544.50 150.80Z" fill="#0000ff"/>
<line x1="567.40" y1="138.50" x2="567.40" y2="157.10" stroke="#0000ff" stroke-width="1" />
<path d="M567.40 161.10L565.40 155.10L569.40 155.10Z" fill="#0000ff"/>
<line x1="601.80" y1="105.80" x2="601.80" y2="113.20" stroke="#0000ff" stroke-width="1" />
<path d="M601.80 117.20L599.80 111.20L603.80 111.20Z" fill="#0000ff"/>
<line x1="613.90" y1="100.80" x2="613.90" y2="109.40" stroke="#0000ff" stroke-width="1" />
<path d="M613.90 113.40L611.90 107.40L615.90 107.40Z" fill="#0000ff"/>
<line x1="611.60" y1="117.10" x2="611.60" y2="133.40" stroke="#0000ff" stroke-width="1" />
<path d="M611.60 137.40L609.60 131.40L613.60 131.40Z" fill="#0000ff"/>
<line x1="603.50" y1="127.40" x2="603.50" y2="143.00" stroke="#0000ff" stroke-width="1" />
<path d="M603.50 147.00L601.50 141.00L605.50 141.00Z" fill="#0000ff"/>
<line x1="628.40" y1="155.70" x2="628.40" y2="173.80" stroke="#0000ff" stroke-width="1" />
<path d="M628.40 177.80L626.40 171.80L630.40 171.80Z" fill="#0000ff"/>
<line x1="630.80" y1="163.10" x2="630.80" y2="179.50" stroke="#0000ff" stroke-width="1" />
<path d="M630.80 183.50L628.80 177.50L632.80 177.50Z" fill="#0000ff"/>
<line x1="645.60" y1="159.90" x2="645.60" y2="175.40" stroke="#0000ff" stroke-width="1" />
<path d="M645.60 179.40L643.60 173.40L647.60 173.40Z" fill="#0000ff"/>
<line x1="680.80" y1="194.30" x2="680.80" y2="211.70" stroke="#0000ff" stroke-width="1" />
<path d="M680.80 215.70L678.80 209.70L682.80 209.70Z" fill="#0000ff"/>
<path d="M487.10 67.90L491.60 72.40L487.10 76.90L482.60 72.40Z" fill="#0000ff"/>
<path d="M542.50 128.40L547.00 132.90L542.50 137.40L538.00 132.90Z" fill="#0000ff"/>
<path d="M567.40 134.00L571.90 138.50L567.40 143.00L562.90 138.50Z" fill="#0000ff"/>
<path d="M601.80 101.30L606.30 105.80L601.80 110.30L597.30 105.80Z" fill="#0000ff"/>
<path d="M613.90 96.30L618.40 100.80L613.90 105.30L609.40 100.80Z" fill="#0000ff"/>
<path d="M611.60 112.60L616.10 117.10L611.60 121.60L607.10 117.10Z" fill="#0000ff"/>
<path d="M603.50 122.90L608.00 127.40L603.50 131.90L599.00 127.40Z" fill="#0000ff"/>
<path d="M628.40 151.20L632.90 155.70L628.40 160.20L623.90 155.70Z" fill="#0000ff"/>
<path d="M630.80 158.60L635.30 163.10L630.80 167.60L626.30 163.10Z" fill="#0000ff"/>
<path d="M645.60 155.40L650.10 159.90L645.60 164.40L641.10 159.90Z" fill="#0000ff"/>
<path d="M680.80 189.80L685.30 194.30L680.80 198.80L676.30 194.30Z" fill="#0000ff"/>
<line x1="438.50" y1="24.50" x2="722.20" y2="193.50" stroke="#ff5050" stroke-width="1.1" />
<text x="549.50" y="215.80" font-size="12.7" text-anchor="start" font-style="normal" font-weight="normal" fill="#000" textLength="43.2" lengthAdjust="spacingAndGlyphs">n=1 cm</text>
<text x="592.00" y="209.20" font-size="8" text-anchor="start" font-style="normal" font-weight="normal" fill="#000" >-3</text>
<text x="552.90" y="262.00" font-size="17" text-anchor="start" font-style="italic" font-weight="normal" fill="#000" >t</text>
<text x="557.20" y="269.30" font-size="10" text-anchor="start" font-style="italic" font-weight="normal" fill="#000" >col</text>
<text x="575.00" y="262.00" font-size="17" text-anchor="start" font-style="normal" font-weight="normal" fill="#000" >(s)</text>
<g transform="translate(390.5,157) rotate(-90)"><text x="0" y="0" font-size="17.5" font-style="italic">E</text><text x="13" y="6" font-size="9.5" font-style="italic">total,iso</text><text x="49.6" y="0" font-size="17.5">(erg)</text></g>
<line x1="174.60" y1="322.80" x2="174.60" y2="329.20" stroke="#c0c0c0" stroke-width="0.8" />
<line x1="172.60" y1="322.80" x2="176.60" y2="322.80" stroke="#c0c0c0" stroke-width="0.8" />
<line x1="172.60" y1="329.20" x2="176.60" y2="329.20" stroke="#c0c0c0" stroke-width="0.8" />
<line x1="176.70" y1="338.50" x2="185.10" y2="338.50" stroke="#c0c0c0" stroke-width="0.8" />
<line x1="176.70" y1="336.50" x2="176.70" y2="340.50" stroke="#c0c0c0" stroke-width="0.8" />
<line x1="185.10" y1="336.50" x2="185.10" y2="340.50" stroke="#c0c0c0" stroke-width="0.8" />
<line x1="176.70" y1="338.50" x2="176.70" y2="360.50" stroke="#c0c0c0" stroke-width="0.8" />
<line x1="174.70" y1="338.50" x2="178.70" y2="338.50" stroke="#c0c0c0" stroke-width="0.8" />
<line x1="174.70" y1="360.50" x2="178.70" y2="360.50" stroke="#c0c0c0" stroke-width="0.8" />
<line x1="181.00" y1="362.80" x2="181.00" y2="368.00" stroke="#c0c0c0" stroke-width="0.8" />
<line x1="179.00" y1="362.80" x2="183.00" y2="362.80" stroke="#c0c0c0" stroke-width="0.8" />
<line x1="179.00" y1="368.00" x2="183.00" y2="368.00" stroke="#c0c0c0" stroke-width="0.8" />
<line x1="187.40" y1="361.90" x2="187.40" y2="373.20" stroke="#c0c0c0" stroke-width="0.8" />
<line x1="185.40" y1="361.90" x2="189.40" y2="361.90" stroke="#c0c0c0" stroke-width="0.8" />
<line x1="185.40" y1="373.20" x2="189.40" y2="373.20" stroke="#c0c0c0" stroke-width="0.8" />
<line x1="192.60" y1="379.50" x2="198.30" y2="379.50" stroke="#c0c0c0" stroke-width="0.8" />
<line x1="192.60" y1="377.50" x2="192.60" y2="381.50" stroke="#c0c0c0" stroke-width="0.8" />
<line x1="198.30" y1="377.50" x2="198.30" y2="381.50" stroke="#c0c0c0" stroke-width="0.8" />
<line x1="205.30" y1="395.60" x2="205.30" y2="413.00" stroke="#c0c0c0" stroke-width="0.8" />
<line x1="203.30" y1="395.60" x2="207.30" y2="395.60" stroke="#c0c0c0" stroke-width="0.8" />
<line x1="203.30" y1="413.00" x2="207.30" y2="413.00" stroke="#c0c0c0" stroke-width="0.8" />
<line x1="213.00" y1="376.30" x2="213.00" y2="385.20" stroke="#c0c0c0" stroke-width="0.8" />
<line x1="211.00" y1="376.30" x2="215.00" y2="376.30" stroke="#c0c0c0" stroke-width="0.8" />
<line x1="211.00" y1="385.20" x2="215.00" y2="385.20" stroke="#c0c0c0" stroke-width="0.8" />
<line x1="253.10" y1="369.70" x2="260.10" y2="369.70" stroke="#c0c0c0" stroke-width="0.8" />
<line x1="253.10" y1="367.70" x2="253.10" y2="371.70" stroke="#c0c0c0" stroke-width="0.8" />
<line x1="260.10" y1="367.70" x2="260.10" y2="371.70" stroke="#c0c0c0" stroke-width="0.8" />
<line x1="254.30" y1="375.60" x2="259.00" y2="375.60" stroke="#c0c0c0" stroke-width="0.8" />
<line x1="254.30" y1="373.60" x2="254.30" y2="377.60" stroke="#c0c0c0" stroke-width="0.8" />
<line x1="259.00" y1="373.60" x2="259.00" y2="377.60" stroke="#c0c0c0" stroke-width="0.8" />
<line x1="265.80" y1="372.00" x2="265.80" y2="377.60" stroke="#c0c0c0" stroke-width="0.8" />
<line x1="263.80" y1="372.00" x2="267.80" y2="372.00" stroke="#c0c0c0" stroke-width="0.8" />
<line x1="263.80" y1="377.60" x2="267.80" y2="377.60" stroke="#c0c0c0" stroke-width="0.8" />
<line x1="266.80" y1="399.80" x2="278.50" y2="399.80" stroke="#c0c0c0" stroke-width="0.8" />
<line x1="266.80" y1="397.80" x2="266.80" y2="401.80" stroke="#c0c0c0" stroke-width="0.8" />
<line x1="278.50" y1="397.80" x2="278.50" y2="401.80" stroke="#c0c0c0" stroke-width="0.8" />
<line x1="272.70" y1="409.00" x2="281.60" y2="409.00" stroke="#c0c0c0" stroke-width="0.8" />
<line x1="272.70" y1="407.00" x2="272.70" y2="411.00" stroke="#c0c0c0" stroke-width="0.8" />
<line x1="281.60" y1="407.00" x2="281.60" y2="411.00" stroke="#c0c0c0" stroke-width="0.8" />
<line x1="269.60" y1="415.80" x2="280.50" y2="415.80" stroke="#c0c0c0" stroke-width="0.8" />
<line x1="269.60" y1="413.80" x2="269.60" y2="417.80" stroke="#c0c0c0" stroke-width="0.8" />
<line x1="280.50" y1="413.80" x2="280.50" y2="417.80" stroke="#c0c0c0" stroke-width="0.8" />
<line x1="291.30" y1="415.30" x2="297.50" y2="415.30" stroke="#c0c0c0" stroke-width="0.8" />
<line x1="291.30" y1="413.30" x2="291.30" y2="417.30" stroke="#c0c0c0" stroke-width="0.8" />
<line x1="297.50" y1="413.30" x2="297.50" y2="417.30" stroke="#c0c0c0" stroke-width="0.8" />
<line x1="329.30" y1="421.30" x2="336.60" y2="421.30" stroke="#c0c0c0" stroke-width="0.8" />
<line x1="329.30" y1="419.30" x2="329.30" y2="423.30" stroke="#c0c0c0" stroke-width="0.8" />
<line x1="336.60" y1="419.30" x2="336.60" y2="423.30" stroke="#c0c0c0" stroke-width="0.8" />
<line x1="316.10" y1="453.70" x2="322.50" y2="453.70" stroke="#c0c0c0" stroke-width="0.8" />
<line x1="316.10" y1="451.70" x2="316.10" y2="455.70" stroke="#c0c0c0" stroke-width="0.8" />
<line x1="322.50" y1="451.70" x2="322.50" y2="455.70" stroke="#c0c0c0" stroke-width="0.8" />
<line x1="311.70" y1="464.10" x2="311.70" y2="482.00" stroke="#c0c0c0" stroke-width="0.8" />
<line x1="309.70" y1="464.10" x2="313.70" y2="464.10" stroke="#c0c0c0" stroke-width="0.8" />
<line x1="309.70" y1="482.00" x2="313.70" y2="482.00" stroke="#c0c0c0" stroke-width="0.8" />
<line x1="333.10" y1="491.20" x2="333.10" y2="496.50" stroke="#c0c0c0" stroke-width="0.8" />
<line x1="331.10" y1="491.20" x2="335.10" y2="491.20" stroke="#c0c0c0" stroke-width="0.8" />
<line x1="331.10" y1="496.50" x2="335.10" y2="496.50" stroke="#c0c0c0" stroke-width="0.8" />
<line x1="153.30" y1="344.70" x2="167.10" y2="344.70" stroke="#ff9090" stroke-width="0.8" />
<line x1="153.30" y1="342.70" x2="153.30" y2="346.70" stroke="#ff9090" stroke-width="0.8" />
<line x1="167.10" y1="342.70" x2="167.10" y2="346.70" stroke="#ff9090" stroke-width="0.8" />
<line x1="156.50" y1="368.40" x2="169.30" y2="368.40" stroke="#ff9090" stroke-width="0.8" />
<line x1="156.50" y1="366.40" x2="156.50" y2="370.40" stroke="#ff9090" stroke-width="0.8" />
<line x1="169.30" y1="366.40" x2="169.30" y2="370.40" stroke="#ff9090" stroke-width="0.8" />
<line x1="163.60" y1="368.40" x2="163.60" y2="374.30" stroke="#ff9090" stroke-width="0.8" />
<line x1="161.60" y1="368.40" x2="165.60" y2="368.40" stroke="#ff9090" stroke-width="0.8" />
<line x1="161.60" y1="374.30" x2="165.60" y2="374.30" stroke="#ff9090" stroke-width="0.8" />
<line x1="181.80" y1="385.40" x2="186.50" y2="385.40" stroke="#ff9090" stroke-width="0.8" />
<line x1="181.80" y1="383.40" x2="181.80" y2="387.40" stroke="#ff9090" stroke-width="0.8" />
<line x1="186.50" y1="383.40" x2="186.50" y2="387.40" stroke="#ff9090" stroke-width="0.8" />
<line x1="85.50" y1="343.90" x2="89.60" y2="343.90" stroke="#8080ff" stroke-width="0.8" />
<line x1="85.50" y1="341.90" x2="85.50" y2="345.90" stroke="#8080ff" stroke-width="0.8" />
<line x1="89.60" y1="341.90" x2="89.60" y2="345.90" stroke="#8080ff" stroke-width="0.8" />
<line x1="122.90" y1="328.00" x2="126.90" y2="328.00" stroke="#8080ff" stroke-width="0.8" />
<line x1="122.90" y1="326.00" x2="122.90" y2="330.00" stroke="#8080ff" stroke-width="0.8" />
<line x1="126.90" y1="326.00" x2="126.90" y2="330.00" stroke="#8080ff" stroke-width="0.8" />
<line x1="135.50" y1="324.90" x2="135.50" y2="328.50" stroke="#8080ff" stroke-width="0.8" />
<line x1="133.50" y1="324.90" x2="137.50" y2="324.90" stroke="#8080ff" stroke-width="0.8" />
<line x1="133.50" y1="328.50" x2="137.50" y2="328.50" stroke="#8080ff" stroke-width="0.8" />
<line x1="154.10" y1="384.10" x2="165.50" y2="384.10" stroke="#8080ff" stroke-width="0.8" />
<line x1="154.10" y1="382.10" x2="154.10" y2="386.10" stroke="#8080ff" stroke-width="0.8" />
<line x1="165.50" y1="382.10" x2="165.50" y2="386.10" stroke="#8080ff" stroke-width="0.8" />
<line x1="160.10" y1="377.20" x2="160.10" y2="392.40" stroke="#8080ff" stroke-width="0.8" />
<line x1="158.10" y1="377.20" x2="162.10" y2="377.20" stroke="#8080ff" stroke-width="0.8" />
<line x1="158.10" y1="392.40" x2="162.10" y2="392.40" stroke="#8080ff" stroke-width="0.8" />
<circle cx="174.60" cy="322.80" r="3.5" fill="#777"/>
<circle cx="176.70" cy="338.50" r="3.5" fill="#777"/>
<circle cx="181.00" cy="362.80" r="3.5" fill="#777"/>
<circle cx="187.40" cy="361.90" r="3.5" fill="#777"/>
<circle cx="192.60" cy="379.50" r="3.5" fill="#777"/>
<circle cx="205.30" cy="395.60" r="3.5" fill="#777"/>
<circle cx="209.40" cy="363.60" r="3.5" fill="#777"/>
<circle cx="213.00" cy="376.30" r="3.5" fill="#777"/>
<circle cx="214.00" cy="387.20" r="3.5" fill="#777"/>
<circle cx="230.50" cy="358.00" r="3.5" fill="#777"/>
<circle cx="239.00" cy="368.70" r="3.5" fill="#777"/>
<circle cx="253.10" cy="369.70" r="3.5" fill="#777"/>
<circle cx="247.00" cy="374.10" r="3.5" fill="#777"/>
<circle cx="254.30" cy="375.60" r="3.5" fill="#777"/>
<circle cx="237.30" cy="377.90" r="3.5" fill="#777"/>
<circle cx="265.80" cy="372.00" r="3.5" fill="#777"/>
<circle cx="253.30" cy="386.00" r="3.5" fill="#777"/>
<circle cx="279.10" cy="392.10" r="3.5" fill="#777"/>
<circle cx="260.80" cy="398.00" r="3.5" fill="#777"/>
<circle cx="266.80" cy="399.80" r="3.5" fill="#777"/>
<circle cx="288.50" cy="403.90" r="3.5" fill="#777"/>
<circle cx="252.70" cy="405.50" r="3.5" fill="#777"/>
<circle cx="264.20" cy="409.30" r="3.5" fill="#777"/>
<circle cx="272.70" cy="409.00" r="3.5" fill="#777"/>
<circle cx="249.50" cy="412.60" r="3.5" fill="#777"/>
<circle cx="256.00" cy="417.50" r="3.5" fill="#777"/>
<circle cx="269.60" cy="415.80" r="3.5" fill="#777"/>
<circle cx="291.30" cy="415.30" r="3.5" fill="#777"/>
<circle cx="272.70" cy="434.00" r="3.5" fill="#777"/>
<circle cx="329.30" cy="421.30" r="3.5" fill="#777"/>
<circle cx="305.30" cy="427.20" r="3.5" fill="#777"/>
<circle cx="311.80" cy="428.90" r="3.5" fill="#777"/>
<circle cx="316.10" cy="453.70" r="3.5" fill="#777"/>
<circle cx="311.70" cy="464.10" r="3.5" fill="#777"/>
<circle cx="302.00" cy="468.30" r="3.5" fill="#777"/>
<circle cx="333.10" cy="491.20" r="3.5" fill="#777"/>
<path d="M89.60 339.60L93.90 343.90L89.60 348.20L85.30 343.90Z" fill="#0000ff"/>
<path d="M126.90 323.70L131.20 328.00L126.90 332.30L122.60 328.00Z" fill="#0000ff"/>
<path d="M135.50 324.20L139.80 328.50L135.50 332.80L131.20 328.50Z" fill="#0000ff"/>
<path d="M137.00 331.90L141.30 336.20L137.00 340.50L132.70 336.20Z" fill="#0000ff"/>
<path d="M142.00 337.20L146.30 341.50L142.00 345.80L137.70 341.50Z" fill="#0000ff"/>
<path d="M131.50 341.50L135.80 345.80L131.50 350.10L127.20 345.80Z" fill="#0000ff"/>
<path d="M138.90 343.10L143.20 347.40L138.90 351.70L134.60 347.40Z" fill="#0000ff"/>
<path d="M132.50 351.80L136.80 356.10L132.50 360.40L128.20 356.10Z" fill="#0000ff"/>
<path d="M142.60 352.00L146.90 356.30L142.60 360.60L138.30 356.30Z" fill="#0000ff"/>
<path d="M150.60 348.00L154.90 352.30L150.60 356.60L146.30 352.30Z" fill="#0000ff"/>
<path d="M157.40 346.70L161.70 351.00L157.40 355.30L153.10 351.00Z" fill="#0000ff"/>
<path d="M161.00 350.20L165.30 354.50L161.00 358.80L156.70 354.50Z" fill="#0000ff"/>
<path d="M163.30 353.60L167.60 357.90L163.30 362.20L159.00 357.90Z" fill="#0000ff"/>
<path d="M158.30 357.20L162.60 361.50L158.30 365.80L154.00 361.50Z" fill="#0000ff"/>
<path d="M166.00 356.30L170.30 360.60L166.00 364.90L161.70 360.60Z" fill="#0000ff"/>
<path d="M168.00 374.00L172.30 378.30L168.00 382.60L163.70 378.30Z" fill="#0000ff"/>
<path d="M173.90 377.80L178.20 382.10L173.90 386.40L169.60 382.10Z" fill="#0000ff"/>
<path d="M160.10 379.80L164.40 384.10L160.10 388.40L155.80 384.10Z" fill="#0000ff"/>
<path d="M187.60 396.30L191.90 400.60L187.60 404.90L183.30 400.60Z" fill="#0000ff"/>
<path d="M211.50 365.50L215.80 369.80L211.50 374.10L207.20 369.80Z" fill="#0000ff"/>
<path d="M222.10 414.70L226.40 419.00L222.10 423.30L217.80 419.00Z" fill="#0000ff"/>
<polygon points="160.90,348.60 157.52,346.65 157.52,342.75 160.90,340.80 164.28,342.75 164.28,346.65" fill="#ff0000"/>
<polygon points="163.60,372.30 160.22,370.35 160.22,366.45 163.60,364.50 166.98,366.45 166.98,370.35" fill="#ff0000"/>
<polygon points="186.50,389.30 183.12,387.35 183.12,383.45 186.50,381.50 189.88,383.45 189.88,387.35" fill="#ff0000"/>
<polygon points="198.40,399.10 195.02,397.15 195.02,393.25 198.40,391.30 201.78,393.25 201.78,397.15" fill="#ff0000"/>
<polygon points="222.90,391.80 219.52,389.85 219.52,385.95 222.90,384.00 226.28,385.95 226.28,389.85" fill="#ff0000"/>
<polygon points="230.60,400.00 227.22,398.05 227.22,394.15 230.60,392.20 233.98,394.15 233.98,398.05" fill="#ff0000"/>
<polygon points="244.70,391.40 241.32,389.45 241.32,385.55 244.70,383.60 248.08,385.55 248.08,389.45" fill="#ff0000"/>
<polygon points="255.70,434.60 252.32,432.65 252.32,428.75 255.70,426.80 259.08,428.75 259.08,432.65" fill="#ff0000"/>
<polygon points="284.30,418.00 280.92,416.05 280.92,412.15 284.30,410.20 287.68,412.15 287.68,416.05" fill="#ff0000"/>
<polygon points="302.10,436.50 298.72,434.55 298.72,430.65 302.10,428.70 305.48,430.65 305.48,434.55" fill="#ff0000"/>
<line x1="69.23" y1="287.60" x2="360.90" y2="439.77" stroke="#666" stroke-width="1" stroke-dasharray="1,1.2"/>
<line x1="65.20" y1="312.80" x2="360.90" y2="467.07" stroke="#3a3a3a" stroke-width="1.0" />
<line x1="65.20" y1="339.70" x2="360.90" y2="493.97" stroke="#666" stroke-width="1" stroke-dasharray="1,1.2"/>
<rect x="65.20" y="287.60" width="295.70" height="220.30" fill="none" stroke="#000" stroke-width="1.3"/>
<line x1="65.21" y1="507.90" x2="65.21" y2="505.30" stroke="#000" stroke-width="1" />
<line x1="65.21" y1="287.60" x2="65.21" y2="290.20" stroke="#000" stroke-width="1" />
<line x1="69.89" y1="507.90" x2="69.89" y2="505.30" stroke="#000" stroke-width="1" />
<line x1="69.89" y1="287.60" x2="69.89" y2="290.20" stroke="#000" stroke-width="1" />
<line x1="73.85" y1="507.90" x2="73.85" y2="505.30" stroke="#000" stroke-width="1" />
<line x1="73.85" y1="287.60" x2="73.85" y2="290.20" stroke="#000" stroke-width="1" />
<line x1="77.27" y1="507.90" x2="77.27" y2="505.30" stroke="#000" stroke-width="1" />
<line x1="77.27" y1="287.60" x2="77.27" y2="290.20" stroke="#000" stroke-width="1" />
<line x1="80.30" y1="507.90" x2="80.30" y2="505.30" stroke="#000" stroke-width="1" />
<line x1="80.30" y1="287.60" x2="80.30" y2="290.20" stroke="#000" stroke-width="1" />
<line x1="83.00" y1="507.90" x2="83.00" y2="503.60" stroke="#000" stroke-width="1" />
<line x1="83.00" y1="287.60" x2="83.00" y2="291.90" stroke="#000" stroke-width="1" />
<line x1="100.79" y1="507.90" x2="100.79" y2="505.30" stroke="#000" stroke-width="1" />
<line x1="100.79" y1="287.60" x2="100.79" y2="290.20" stroke="#000" stroke-width="1" />
<line x1="111.20" y1="507.90" x2="111.20" y2="505.30" stroke="#000" stroke-width="1" />
<line x1="111.20" y1="287.60" x2="111.20" y2="290.20" stroke="#000" stroke-width="1" />
<line x1="118.58" y1="507.90" x2="118.58" y2="505.30" stroke="#000" stroke-width="1" />
<line x1="118.58" y1="287.60" x2="118.58" y2="290.20" stroke="#000" stroke-width="1" />
<line x1="124.31" y1="507.90" x2="124.31" y2="505.30" stroke="#000" stroke-width="1" />
<line x1="124.31" y1="287.60" x2="124.31" y2="290.20" stroke="#000" stroke-width="1" />
<line x1="128.99" y1="507.90" x2="128.99" y2="505.30" stroke="#000" stroke-width="1" />
<line x1="128.99" y1="287.60" x2="128.99" y2="290.20" stroke="#000" stroke-width="1" />
<line x1="132.95" y1="507.90" x2="132.95" y2="505.30" stroke="#000" stroke-width="1" />
<line x1="132.95" y1="287.60" x2="132.95" y2="290.20" stroke="#000" stroke-width="1" />
<line x1="136.37" y1="507.90" x2="136.37" y2="505.30" stroke="#000" stroke-width="1" />
<line x1="136.37" y1="287.60" x2="136.37" y2="290.20" stroke="#000" stroke-width="1" />
<line x1="139.40" y1="507.90" x2="139.40" y2="505.30" stroke="#000" stroke-width="1" />
<line x1="139.40" y1="287.60" x2="139.40" y2="290.20" stroke="#000" stroke-width="1" />
<line x1="142.10" y1="507.90" x2="142.10" y2="503.60" stroke="#000" stroke-width="1" />
<line x1="142.10" y1="287.60" x2="142.10" y2="291.90" stroke="#000" stroke-width="1" />
<line x1="159.89" y1="507.90" x2="159.89" y2="505.30" stroke="#000" stroke-width="1" />
<line x1="159.89" y1="287.60" x2="159.89" y2="290.20" stroke="#000" stroke-width="1" />
<line x1="170.30" y1="507.90" x2="170.30" y2="505.30" stroke="#000" stroke-width="1" />
<line x1="170.30" y1="287.60" x2="170.30" y2="290.20" stroke="#000" stroke-width="1" />
<line x1="177.68" y1="507.90" x2="177.68" y2="505.30" stroke="#000" stroke-width="1" />
<line x1="177.68" y1="287.60" x2="177.68" y2="290.20" stroke="#000" stroke-width="1" />
<line x1="183.41" y1="507.90" x2="183.41" y2="505.30" stroke="#000" stroke-width="1" />
<line x1="183.41" y1="287.60" x2="183.41" y2="290.20" stroke="#000" stroke-width="1" />
<line x1="188.09" y1="507.90" x2="188.09" y2="505.30" stroke="#000" stroke-width="1" />
<line x1="188.09" y1="287.60" x2="188.09" y2="290.20" stroke="#000" stroke-width="1" />
<line x1="192.05" y1="507.90" x2="192.05" y2="505.30" stroke="#000" stroke-width="1" />
<line x1="192.05" y1="287.60" x2="192.05" y2="290.20" stroke="#000" stroke-width="1" />
<line x1="195.47" y1="507.90" x2="195.47" y2="505.30" stroke="#000" stroke-width="1" />
<line x1="195.47" y1="287.60" x2="195.47" y2="290.20" stroke="#000" stroke-width="1" />
<line x1="198.50" y1="507.90" x2="198.50" y2="505.30" stroke="#000" stroke-width="1" />
<line x1="198.50" y1="287.60" x2="198.50" y2="290.20" stroke="#000" stroke-width="1" />
<line x1="201.20" y1="507.90" x2="201.20" y2="503.60" stroke="#000" stroke-width="1" />
<line x1="201.20" y1="287.60" x2="201.20" y2="291.90" stroke="#000" stroke-width="1" />
<line x1="218.99" y1="507.90" x2="218.99" y2="505.30" stroke="#000" stroke-width="1" />
<line x1="218.99" y1="287.60" x2="218.99" y2="290.20" stroke="#000" stroke-width="1" />
<line x1="229.40" y1="507.90" x2="229.40" y2="505.30" stroke="#000" stroke-width="1" />
<line x1="229.40" y1="287.60" x2="229.40" y2="290.20" stroke="#000" stroke-width="1" />
<line x1="236.78" y1="507.90" x2="236.78" y2="505.30" stroke="#000" stroke-width="1" />
<line x1="236.78" y1="287.60" x2="236.78" y2="290.20" stroke="#000" stroke-width="1" />
<line x1="242.51" y1="507.90" x2="242.51" y2="505.30" stroke="#000" stroke-width="1" />
<line x1="242.51" y1="287.60" x2="242.51" y2="290.20" stroke="#000" stroke-width="1" />
<line x1="247.19" y1="507.90" x2="247.19" y2="505.30" stroke="#000" stroke-width="1" />
<line x1="247.19" y1="287.60" x2="247.19" y2="290.20" stroke="#000" stroke-width="1" />
<line x1="251.15" y1="507.90" x2="251.15" y2="505.30" stroke="#000" stroke-width="1" />
<line x1="251.15" y1="287.60" x2="251.15" y2="290.20" stroke="#000" stroke-width="1" />
<line x1="254.57" y1="507.90" x2="254.57" y2="505.30" stroke="#000" stroke-width="1" />
<line x1="254.57" y1="287.60" x2="254.57" y2="290.20" stroke="#000" stroke-width="1" />
<line x1="257.60" y1="507.90" x2="257.60" y2="505.30" stroke="#000" stroke-width="1" />
<line x1="257.60" y1="287.60" x2="257.60" y2="290.20" stroke="#000" stroke-width="1" />
<line x1="260.30" y1="507.90" x2="260.30" y2="503.60" stroke="#000" stroke-width="1" />
<line x1="260.30" y1="287.60" x2="260.30" y2="291.90" stroke="#000" stroke-width="1" />
<line x1="278.09" y1="507.90" x2="278.09" y2="505.30" stroke="#000" stroke-width="1" />
<line x1="278.09" y1="287.60" x2="278.09" y2="290.20" stroke="#000" stroke-width="1" />
<line x1="288.50" y1="507.90" x2="288.50" y2="505.30" stroke="#000" stroke-width="1" />
<line x1="288.50" y1="287.60" x2="288.50" y2="290.20" stroke="#000" stroke-width="1" />
<line x1="295.88" y1="507.90" x2="295.88" y2="505.30" stroke="#000" stroke-width="1" />
<line x1="295.88" y1="287.60" x2="295.88" y2="290.20" stroke="#000" stroke-width="1" />
<line x1="301.61" y1="507.90" x2="301.61" y2="505.30" stroke="#000" stroke-width="1" />
<line x1="301.61" y1="287.60" x2="301.61" y2="290.20" stroke="#000" stroke-width="1" />
<line x1="306.29" y1="507.90" x2="306.29" y2="505.30" stroke="#000" stroke-width="1" />
<line x1="306.29" y1="287.60" x2="306.29" y2="290.20" stroke="#000" stroke-width="1" />
<line x1="310.25" y1="507.90" x2="310.25" y2="505.30" stroke="#000" stroke-width="1" />
<line x1="310.25" y1="287.60" x2="310.25" y2="290.20" stroke="#000" stroke-width="1" />
<line x1="313.67" y1="507.90" x2="313.67" y2="505.30" stroke="#000" stroke-width="1" />
<line x1="313.67" y1="287.60" x2="313.67" y2="290.20" stroke="#000" stroke-width="1" />
<line x1="316.70" y1="507.90" x2="316.70" y2="505.30" stroke="#000" stroke-width="1" />
<line x1="316.70" y1="287.60" x2="316.70" y2="290.20" stroke="#000" stroke-width="1" />
<line x1="319.40" y1="507.90" x2="319.40" y2="503.60" stroke="#000" stroke-width="1" />
<line x1="319.40" y1="287.60" x2="319.40" y2="291.90" stroke="#000" stroke-width="1" />
<line x1="337.19" y1="507.90" x2="337.19" y2="505.30" stroke="#000" stroke-width="1" />
<line x1="337.19" y1="287.60" x2="337.19" y2="290.20" stroke="#000" stroke-width="1" />
<line x1="347.60" y1="507.90" x2="347.60" y2="505.30" stroke="#000" stroke-width="1" />
<line x1="347.60" y1="287.60" x2="347.60" y2="290.20" stroke="#000" stroke-width="1" />
<line x1="354.98" y1="507.90" x2="354.98" y2="505.30" stroke="#000" stroke-width="1" />
<line x1="354.98" y1="287.60" x2="354.98" y2="290.20" stroke="#000" stroke-width="1" />
<line x1="360.71" y1="507.90" x2="360.71" y2="505.30" stroke="#000" stroke-width="1" />
<line x1="360.71" y1="287.60" x2="360.71" y2="290.20" stroke="#000" stroke-width="1" />
<line x1="65.20" y1="507.90" x2="69.50" y2="507.90" stroke="#000" stroke-width="1" />
<line x1="360.90" y1="507.90" x2="356.60" y2="507.90" stroke="#000" stroke-width="1" />
<line x1="65.20" y1="501.27" x2="67.80" y2="501.27" stroke="#000" stroke-width="1" />
<line x1="360.90" y1="501.27" x2="358.30" y2="501.27" stroke="#000" stroke-width="1" />
<line x1="65.20" y1="497.39" x2="67.80" y2="497.39" stroke="#000" stroke-width="1" />
<line x1="360.90" y1="497.39" x2="358.30" y2="497.39" stroke="#000" stroke-width="1" />
<line x1="65.20" y1="494.64" x2="67.80" y2="494.64" stroke="#000" stroke-width="1" />
<line x1="360.90" y1="494.64" x2="358.30" y2="494.64" stroke="#000" stroke-width="1" />
<line x1="65.20" y1="492.50" x2="67.80" y2="492.50" stroke="#000" stroke-width="1" />
<line x1="360.90" y1="492.50" x2="358.30" y2="492.50" stroke="#000" stroke-width="1" />
<line x1="65.20" y1="490.76" x2="67.80" y2="490.76" stroke="#000" stroke-width="1" />
<line x1="360.90" y1="490.76" x2="358.30" y2="490.76" stroke="#000" stroke-width="1" />
<line x1="65.20" y1="489.28" x2="67.80" y2="489.28" stroke="#000" stroke-width="1" />
<line x1="360.90" y1="489.28" x2="358.30" y2="489.28" stroke="#000" stroke-width="1" />
<line x1="65.20" y1="488.00" x2="67.80" y2="488.00" stroke="#000" stroke-width="1" />
<line x1="360.90" y1="488.00" x2="358.30" y2="488.00" stroke="#000" stroke-width="1" />
<line x1="65.20" y1="486.88" x2="67.80" y2="486.88" stroke="#000" stroke-width="1" />
<line x1="360.90" y1="486.88" x2="358.30" y2="486.88" stroke="#000" stroke-width="1" />
<line x1="65.20" y1="485.87" x2="69.50" y2="485.87" stroke="#000" stroke-width="1" />
<line x1="360.90" y1="485.87" x2="356.60" y2="485.87" stroke="#000" stroke-width="1" />
<line x1="65.20" y1="479.24" x2="67.80" y2="479.24" stroke="#000" stroke-width="1" />
<line x1="360.90" y1="479.24" x2="358.30" y2="479.24" stroke="#000" stroke-width="1" />
<line x1="65.20" y1="475.36" x2="67.80" y2="475.36" stroke="#000" stroke-width="1" />
<line x1="360.90" y1="475.36" x2="358.30" y2="475.36" stroke="#000" stroke-width="1" />
<line x1="65.20" y1="472.61" x2="67.80" y2="472.61" stroke="#000" stroke-width="1" />
<line x1="360.90" y1="472.61" x2="358.30" y2="472.61" stroke="#000" stroke-width="1" />
<line x1="65.20" y1="470.47" x2="67.80" y2="470.47" stroke="#000" stroke-width="1" />
<line x1="360.90" y1="470.47" x2="358.30" y2="470.47" stroke="#000" stroke-width="1" />
<line x1="65.20" y1="468.73" x2="67.80" y2="468.73" stroke="#000" stroke-width="1" />
<line x1="360.90" y1="468.73" x2="358.30" y2="468.73" stroke="#000" stroke-width="1" />
<line x1="65.20" y1="467.25" x2="67.80" y2="467.25" stroke="#000" stroke-width="1" />
<line x1="360.90" y1="467.25" x2="358.30" y2="467.25" stroke="#000" stroke-width="1" />
<line x1="65.20" y1="465.97" x2="67.80" y2="465.97" stroke="#000" stroke-width="1" />
<line x1="360.90" y1="465.97" x2="358.30" y2="465.97" stroke="#000" stroke-width="1" />
<line x1="65.20" y1="464.85" x2="67.80" y2="464.85" stroke="#000" stroke-width="1" />
<line x1="360.90" y1="464.85" x2="358.30" y2="464.85" stroke="#000" stroke-width="1" />
<line x1="65.20" y1="463.84" x2="69.50" y2="463.84" stroke="#000" stroke-width="1" />
<line x1="360.90" y1="463.84" x2="356.60" y2="463.84" stroke="#000" stroke-width="1" />
<line x1="65.20" y1="457.21" x2="67.80" y2="457.21" stroke="#000" stroke-width="1" />
<line x1="360.90" y1="457.21" x2="358.30" y2="457.21" stroke="#000" stroke-width="1" />
<line x1="65.20" y1="453.33" x2="67.80" y2="453.33" stroke="#000" stroke-width="1" />
<line x1="360.90" y1="453.33" x2="358.30" y2="453.33" stroke="#000" stroke-width="1" />
<line x1="65.20" y1="450.58" x2="67.80" y2="450.58" stroke="#000" stroke-width="1" />
<line x1="360.90" y1="450.58" x2="358.30" y2="450.58" stroke="#000" stroke-width="1" />
<line x1="65.20" y1="448.44" x2="67.80" y2="448.44" stroke="#000" stroke-width="1" />
<line x1="360.90" y1="448.44" x2="358.30" y2="448.44" stroke="#000" stroke-width="1" />
<line x1="65.20" y1="446.70" x2="67.80" y2="446.70" stroke="#000" stroke-width="1" />
<line x1="360.90" y1="446.70" x2="358.30" y2="446.70" stroke="#000" stroke-width="1" />
<line x1="65.20" y1="445.22" x2="67.80" y2="445.22" stroke="#000" stroke-width="1" />
<line x1="360.90" y1="445.22" x2="358.30" y2="445.22" stroke="#000" stroke-width="1" />
<line x1="65.20" y1="443.94" x2="67.80" y2="443.94" stroke="#000" stroke-width="1" />
<line x1="360.90" y1="443.94" x2="358.30" y2="443.94" stroke="#000" stroke-width="1" />
<line x1="65.20" y1="442.82" x2="67.80" y2="442.82" stroke="#000" stroke-width="1" />
<line x1="360.90" y1="442.82" x2="358.30" y2="442.82" stroke="#000" stroke-width="1" />
<line x1="65.20" y1="441.81" x2="69.50" y2="441.81" stroke="#000" stroke-width="1" />
<line x1="360.90" y1="441.81" x2="356.60" y2="441.81" stroke="#000" stroke-width="1" />
<line x1="65.20" y1="435.18" x2="67.80" y2="435.18" stroke="#000" stroke-width="1" />
<line x1="360.90" y1="435.18" x2="358.30" y2="435.18" stroke="#000" stroke-width="1" />
<line x1="65.20" y1="431.30" x2="67.80" y2="431.30" stroke="#000" stroke-width="1" />
<line x1="360.90" y1="431.30" x2="358.30" y2="431.30" stroke="#000" stroke-width="1" />
<line x1="65.20" y1="428.55" x2="67.80" y2="428.55" stroke="#000" stroke-width="1" />
<line x1="360.90" y1="428.55" x2="358.30" y2="428.55" stroke="#000" stroke-width="1" />
<line x1="65.20" y1="426.41" x2="67.80" y2="426.41" stroke="#000" stroke-width="1" />
<line x1="360.90" y1="426.41" x2="358.30" y2="426.41" stroke="#000" stroke-width="1" />
<line x1="65.20" y1="424.67" x2="67.80" y2="424.67" stroke="#000" stroke-width="1" />
<line x1="360.90" y1="424.67" x2="358.30" y2="424.67" stroke="#000" stroke-width="1" />
<line x1="65.20" y1="423.19" x2="67.80" y2="423.19" stroke="#000" stroke-width="1" />
<line x1="360.90" y1="423.19" x2="358.30" y2="423.19" stroke="#000" stroke-width="1" />
<line x1="65.20" y1="421.91" x2="67.80" y2="421.91" stroke="#000" stroke-width="1" />
<line x1="360.90" y1="421.91" x2="358.30" y2="421.91" stroke="#000" stroke-width="1" />
<line x1="65.20" y1="420.79" x2="67.80" y2="420.79" stroke="#000" stroke-width="1" />
<line x1="360.90" y1="420.79" x2="358.30" y2="420.79" stroke="#000" stroke-width="1" />
<line x1="65.20" y1="419.78" x2="69.50" y2="419.78" stroke="#000" stroke-width="1" />
<line x1="360.90" y1="419.78" x2="356.60" y2="419.78" stroke="#000" stroke-width="1" />
<line x1="65.20" y1="413.15" x2="67.80" y2="413.15" stroke="#000" stroke-width="1" />
<line x1="360.90" y1="413.15" x2="358.30" y2="413.15" stroke="#000" stroke-width="1" />
<line x1="65.20" y1="409.27" x2="67.80" y2="409.27" stroke="#000" stroke-width="1" />
<line x1="360.90" y1="409.27" x2="358.30" y2="409.27" stroke="#000" stroke-width="1" />
<line x1="65.20" y1="406.52" x2="67.80" y2="406.52" stroke="#000" stroke-width="1" />
<line x1="360.90" y1="406.52" x2="358.30" y2="406.52" stroke="#000" stroke-width="1" />
<line x1="65.20" y1="404.38" x2="67.80" y2="404.38" stroke="#000" stroke-width="1" />
<line x1="360.90" y1="404.38" x2="358.30" y2="404.38" stroke="#000" stroke-width="1" />
<line x1="65.20" y1="402.64" x2="67.80" y2="402.64" stroke="#000" stroke-width="1" />
<line x1="360.90" y1="402.64" x2="358.30" y2="402.64" stroke="#000" stroke-width="1" />
<line x1="65.20" y1="401.16" x2="67.80" y2="401.16" stroke="#000" stroke-width="1" />
<line x1="360.90" y1="401.16" x2="358.30" y2="401.16" stroke="#000" stroke-width="1" />
<line x1="65.20" y1="399.88" x2="67.80" y2="399.88" stroke="#000" stroke-width="1" />
<line x1="360.90" y1="399.88" x2="358.30" y2="399.88" stroke="#000" stroke-width="1" />
<line x1="65.20" y1="398.76" x2="67.80" y2="398.76" stroke="#000" stroke-width="1" />
<line x1="360.90" y1="398.76" x2="358.30" y2="398.76" stroke="#000" stroke-width="1" />
<line x1="65.20" y1="397.75" x2="69.50" y2="397.75" stroke="#000" stroke-width="1" />
<line x1="360.90" y1="397.75" x2="356.60" y2="397.75" stroke="#000" stroke-width="1" />
<line x1="65.20" y1="391.12" x2="67.80" y2="391.12" stroke="#000" stroke-width="1" />
<line x1="360.90" y1="391.12" x2="358.30" y2="391.12" stroke="#000" stroke-width="1" />
<line x1="65.20" y1="387.24" x2="67.80" y2="387.24" stroke="#000" stroke-width="1" />
<line x1="360.90" y1="387.24" x2="358.30" y2="387.24" stroke="#000" stroke-width="1" />
<line x1="65.20" y1="384.49" x2="67.80" y2="384.49" stroke="#000" stroke-width="1" />
<line x1="360.90" y1="384.49" x2="358.30" y2="384.49" stroke="#000" stroke-width="1" />
<line x1="65.20" y1="382.35" x2="67.80" y2="382.35" stroke="#000" stroke-width="1" />
<line x1="360.90" y1="382.35" x2="358.30" y2="382.35" stroke="#000" stroke-width="1" />
<line x1="65.20" y1="380.61" x2="67.80" y2="380.61" stroke="#000" stroke-width="1" />
<line x1="360.90" y1="380.61" x2="358.30" y2="380.61" stroke="#000" stroke-width="1" />
<line x1="65.20" y1="379.13" x2="67.80" y2="379.13" stroke="#000" stroke-width="1" />
<line x1="360.90" y1="379.13" x2="358.30" y2="379.13" stroke="#000" stroke-width="1" />
<line x1="65.20" y1="377.85" x2="67.80" y2="377.85" stroke="#000" stroke-width="1" />
<line x1="360.90" y1="377.85" x2="358.30" y2="377.85" stroke="#000" stroke-width="1" />
<line x1="65.20" y1="376.73" x2="67.80" y2="376.73" stroke="#000" stroke-width="1" />
<line x1="360.90" y1="376.73" x2="358.30" y2="376.73" stroke="#000" stroke-width="1" />
<line x1="65.20" y1="375.72" x2="69.50" y2="375.72" stroke="#000" stroke-width="1" />
<line x1="360.90" y1="375.72" x2="356.60" y2="375.72" stroke="#000" stroke-width="1" />
<line x1="65.20" y1="369.09" x2="67.80" y2="369.09" stroke="#000" stroke-width="1" />
<line x1="360.90" y1="369.09" x2="358.30" y2="369.09" stroke="#000" stroke-width="1" />
<line x1="65.20" y1="365.21" x2="67.80" y2="365.21" stroke="#000" stroke-width="1" />
<line x1="360.90" y1="365.21" x2="358.30" y2="365.21" stroke="#000" stroke-width="1" />
<line x1="65.20" y1="362.46" x2="67.80" y2="362.46" stroke="#000" stroke-width="1" />
<line x1="360.90" y1="362.46" x2="358.30" y2="362.46" stroke="#000" stroke-width="1" />
<line x1="65.20" y1="360.32" x2="67.80" y2="360.32" stroke="#000" stroke-width="1" />
<line x1="360.90" y1="360.32" x2="358.30" y2="360.32" stroke="#000" stroke-width="1" />
<line x1="65.20" y1="358.58" x2="67.80" y2="358.58" stroke="#000" stroke-width="1" />
<line x1="360.90" y1="358.58" x2="358.30" y2="358.58" stroke="#000" stroke-width="1" />
<line x1="65.20" y1="357.10" x2="67.80" y2="357.10" stroke="#000" stroke-width="1" />
<line x1="360.90" y1="357.10" x2="358.30" y2="357.10" stroke="#000" stroke-width="1" />
<line x1="65.20" y1="355.82" x2="67.80" y2="355.82" stroke="#000" stroke-width="1" />
<line x1="360.90" y1="355.82" x2="358.30" y2="355.82" stroke="#000" stroke-width="1" />
<line x1="65.20" y1="354.70" x2="67.80" y2="354.70" stroke="#000" stroke-width="1" />
<line x1="360.90" y1="354.70" x2="358.30" y2="354.70" stroke="#000" stroke-width="1" />
<line x1="65.20" y1="353.69" x2="69.50" y2="353.69" stroke="#000" stroke-width="1" />
<line x1="360.90" y1="353.69" x2="356.60" y2="353.69" stroke="#000" stroke-width="1" />
<line x1="65.20" y1="347.06" x2="67.80" y2="347.06" stroke="#000" stroke-width="1" />
<line x1="360.90" y1="347.06" x2="358.30" y2="347.06" stroke="#000" stroke-width="1" />
<line x1="65.20" y1="343.18" x2="67.80" y2="343.18" stroke="#000" stroke-width="1" />
<line x1="360.90" y1="343.18" x2="358.30" y2="343.18" stroke="#000" stroke-width="1" />
<line x1="65.20" y1="340.43" x2="67.80" y2="340.43" stroke="#000" stroke-width="1" />
<line x1="360.90" y1="340.43" x2="358.30" y2="340.43" stroke="#000" stroke-width="1" />
<line x1="65.20" y1="338.29" x2="67.80" y2="338.29" stroke="#000" stroke-width="1" />
<line x1="360.90" y1="338.29" x2="358.30" y2="338.29" stroke="#000" stroke-width="1" />
<line x1="65.20" y1="336.55" x2="67.80" y2="336.55" stroke="#000" stroke-width="1" />
<line x1="360.90" y1="336.55" x2="358.30" y2="336.55" stroke="#000" stroke-width="1" />
<line x1="65.20" y1="335.07" x2="67.80" y2="335.07" stroke="#000" stroke-width="1" />
<line x1="360.90" y1="335.07" x2="358.30" y2="335.07" stroke="#000" stroke-width="1" />
<line x1="65.20" y1="333.79" x2="67.80" y2="333.79" stroke="#000" stroke-width="1" />
<line x1="360.90" y1="333.79" x2="358.30" y2="333.79" stroke="#000" stroke-width="1" />
<line x1="65.20" y1="332.67" x2="67.80" y2="332.67" stroke="#000" stroke-width="1" />
<line x1="360.90" y1="332.67" x2="358.30" y2="332.67" stroke="#000" stroke-width="1" />
<line x1="65.20" y1="331.66" x2="69.50" y2="331.66" stroke="#000" stroke-width="1" />
<line x1="360.90" y1="331.66" x2="356.60" y2="331.66" stroke="#000" stroke-width="1" />
<line x1="65.20" y1="325.03" x2="67.80" y2="325.03" stroke="#000" stroke-width="1" />
<line x1="360.90" y1="325.03" x2="358.30" y2="325.03" stroke="#000" stroke-width="1" />
<line x1="65.20" y1="321.15" x2="67.80" y2="321.15" stroke="#000" stroke-width="1" />
<line x1="360.90" y1="321.15" x2="358.30" y2="321.15" stroke="#000" stroke-width="1" />
<line x1="65.20" y1="318.40" x2="67.80" y2="318.40" stroke="#000" stroke-width="1" />
<line x1="360.90" y1="318.40" x2="358.30" y2="318.40" stroke="#000" stroke-width="1" />
<line x1="65.20" y1="316.26" x2="67.80" y2="316.26" stroke="#000" stroke-width="1" />
<line x1="360.90" y1="316.26" x2="358.30" y2="316.26" stroke="#000" stroke-width="1" />
<line x1="65.20" y1="314.52" x2="67.80" y2="314.52" stroke="#000" stroke-width="1" />
<line x1="360.90" y1="314.52" x2="358.30" y2="314.52" stroke="#000" stroke-width="1" />
<line x1="65.20" y1="313.04" x2="67.80" y2="313.04" stroke="#000" stroke-width="1" />
<line x1="360.90" y1="313.04" x2="358.30" y2="313.04" stroke="#000" stroke-width="1" />
<line x1="65.20" y1="311.76" x2="67.80" y2="311.76" stroke="#000" stroke-width="1" />
<line x1="360.90" y1="311.76" x2="358.30" y2="311.76" stroke="#000" stroke-width="1" />
<line x1="65.20" y1="310.64" x2="67.80" y2="310.64" stroke="#000" stroke-width="1" />
<line x1="360.90" y1="310.64" x2="358.30" y2="310.64" stroke="#000" stroke-width="1" />
<line x1="65.20" y1="309.63" x2="69.50" y2="309.63" stroke="#000" stroke-width="1" />
<line x1="360.90" y1="309.63" x2="356.60" y2="309.63" stroke="#000" stroke-width="1" />
<line x1="65.20" y1="303.00" x2="67.80" y2="303.00" stroke="#000" stroke-width="1" />
<line x1="360.90" y1="303.00" x2="358.30" y2="303.00" stroke="#000" stroke-width="1" />
<line x1="65.20" y1="299.12" x2="67.80" y2="299.12" stroke="#000" stroke-width="1" />
<line x1="360.90" y1="299.12" x2="358.30" y2="299.12" stroke="#000" stroke-width="1" />
<line x1="65.20" y1="296.37" x2="67.80" y2="296.37" stroke="#000" stroke-width="1" />
<line x1="360.90" y1="296.37" x2="358.30" y2="296.37" stroke="#000" stroke-width="1" />
<line x1="65.20" y1="294.23" x2="67.80" y2="294.23" stroke="#000" stroke-width="1" />
<line x1="360.90" y1="294.23" x2="358.30" y2="294.23" stroke="#000" stroke-width="1" />
<line x1="65.20" y1="292.49" x2="67.80" y2="292.49" stroke="#000" stroke-width="1" />
<line x1="360.90" y1="292.49" x2="358.30" y2="292.49" stroke="#000" stroke-width="1" />
<line x1="65.20" y1="291.01" x2="67.80" y2="291.01" stroke="#000" stroke-width="1" />
<line x1="360.90" y1="291.01" x2="358.30" y2="291.01" stroke="#000" stroke-width="1" />
<line x1="65.20" y1="289.73" x2="67.80" y2="289.73" stroke="#000" stroke-width="1" />
<line x1="360.90" y1="289.73" x2="358.30" y2="289.73" stroke="#000" stroke-width="1" />
<line x1="65.20" y1="288.61" x2="67.80" y2="288.61" stroke="#000" stroke-width="1" />
<line x1="360.90" y1="288.61" x2="358.30" y2="288.61" stroke="#000" stroke-width="1" />
<line x1="65.20" y1="287.60" x2="69.50" y2="287.60" stroke="#000" stroke-width="1" />
<line x1="360.90" y1="287.60" x2="356.60" y2="287.60" stroke="#000" stroke-width="1" />
<path d="M79.25 525.50L78.08 525.50L78.08 517.83C77.30 518.54 76.00 519.13 74.81 519.42L74.81 518.28C76.52 517.70 77.69 516.79 78.47 516.19L79.25 516.19Z" fill="#000"/>
<text x="80.63" y="525.50" font-size="13" text-anchor="start" font-style="normal" font-weight="normal" fill="#000" >0</text>
<path d="M91.75 518.30L91.03 518.30L91.03 513.58C90.55 514.02 89.75 514.38 89.03 514.56L89.03 513.86C90.07 513.50 90.79 512.94 91.27 512.57L91.75 512.57Z" fill="#000"/>
<path d="M138.35 525.50L137.18 525.50L137.18 517.83C136.40 518.54 135.10 519.13 133.91 519.42L133.91 518.28C135.62 517.70 136.79 516.79 137.57 516.19L138.35 516.19Z" fill="#000"/>
<text x="139.73" y="525.50" font-size="13" text-anchor="start" font-style="normal" font-weight="normal" fill="#000" >0</text>
<text x="147.25" y="518.30" font-size="8" text-anchor="start" font-style="normal" font-weight="normal" fill="#000" >2</text>
<path d="M197.45 525.50L196.28 525.50L196.28 517.83C195.50 518.54 194.20 519.13 193.01 519.42L193.01 518.28C194.72 517.70 195.89 516.79 196.67 516.19L197.45 516.19Z" fill="#000"/>
<text x="198.83" y="525.50" font-size="13" text-anchor="start" font-style="normal" font-weight="normal" fill="#000" >0</text>
<text x="206.35" y="518.30" font-size="8" text-anchor="start" font-style="normal" font-weight="normal" fill="#000" >3</text>
<path d="M256.55 525.50L255.38 525.50L255.38 517.83C254.60 518.54 253.30 519.13 252.12 519.42L252.12 518.28C253.82 517.70 254.99 516.79 255.77 516.19L256.55 516.19Z" fill="#000"/>
<text x="257.93" y="525.50" font-size="13" text-anchor="start" font-style="normal" font-weight="normal" fill="#000" >0</text>
<text x="265.45" y="518.30" font-size="8" text-anchor="start" font-style="normal" font-weight="normal" fill="#000" >4</text>
<path d="M315.65 525.50L314.48 525.50L314.48 517.83C313.70 518.54 312.40 519.13 311.21 519.42L311.21 518.28C312.92 517.70 314.09 516.79 314.87 516.19L315.65 516.19Z" fill="#000"/>
<text x="317.03" y="525.50" font-size="13" text-anchor="start" font-style="normal" font-weight="normal" fill="#000" >0</text>
<text x="324.55" y="518.30" font-size="8" text-anchor="start" font-style="normal" font-weight="normal" fill="#000" >5</text>
<path d="M41.87 513.00L40.65 513.00L40.65 505.04C39.84 505.78 38.49 506.38 37.26 506.68L37.26 505.51C39.03 504.90 40.25 503.95 41.06 503.33L41.87 503.33Z" fill="#000"/>
<text x="43.30" y="513.00" font-size="13.5" text-anchor="start" font-style="normal" font-weight="normal" fill="#000" >0</text>
<text x="51.30" y="505.90" font-size="8.0" text-anchor="start" font-style="normal" font-weight="normal" fill="#000" >4</text>
<text x="55.75" y="505.90" font-size="8.0" text-anchor="start" font-style="normal" font-weight="normal" fill="#000" >2</text>
<path d="M41.87 468.94L40.65 468.94L40.65 460.98C39.84 461.72 38.49 462.33 37.26 462.62L37.26 461.45C39.03 460.84 40.25 459.90 41.06 459.27L41.87 459.27Z" fill="#000"/>
<text x="43.30" y="468.94" font-size="13.5" text-anchor="start" font-style="normal" font-weight="normal" fill="#000" >0</text>
<text x="51.30" y="461.84" font-size="8.0" text-anchor="start" font-style="normal" font-weight="normal" fill="#000" >4</text>
<text x="55.75" y="461.84" font-size="8.0" text-anchor="start" font-style="normal" font-weight="normal" fill="#000" >4</text>
<path d="M41.87 424.88L40.65 424.88L40.65 416.92C39.84 417.66 38.49 418.27 37.26 418.56L37.26 417.39C39.03 416.78 40.25 415.84 41.06 415.21L41.87 415.21Z" fill="#000"/>
<text x="43.30" y="424.88" font-size="13.5" text-anchor="start" font-style="normal" font-weight="normal" fill="#000" >0</text>
<text x="51.30" y="417.78" font-size="8.0" text-anchor="start" font-style="normal" font-weight="normal" fill="#000" >4</text>
<text x="55.75" y="417.78" font-size="8.0" text-anchor="start" font-style="normal" font-weight="normal" fill="#000" >6</text>
<path d="M41.87 380.82L40.65 380.82L40.65 372.86C39.84 373.60 38.49 374.21 37.26 374.50L37.26 373.33C39.03 372.72 40.25 371.78 41.06 371.15L41.87 371.15Z" fill="#000"/>
<text x="43.30" y="380.82" font-size="13.5" text-anchor="start" font-style="normal" font-weight="normal" fill="#000" >0</text>
<text x="51.30" y="373.72" font-size="8.0" text-anchor="start" font-style="normal" font-weight="normal" fill="#000" >4</text>
<text x="55.75" y="373.72" font-size="8.0" text-anchor="start" font-style="normal" font-weight="normal" fill="#000" >8</text>
<path d="M41.87 336.76L40.65 336.76L40.65 328.80C39.84 329.54 38.49 330.15 37.26 330.44L37.26 329.27C39.03 328.66 40.25 327.72 41.06 327.09L41.87 327.09Z" fill="#000"/>
<text x="43.30" y="336.76" font-size="13.5" text-anchor="start" font-style="normal" font-weight="normal" fill="#000" >0</text>
<text x="51.30" y="329.66" font-size="8.0" text-anchor="start" font-style="normal" font-weight="normal" fill="#000" >5</text>
<text x="55.75" y="329.66" font-size="8.0" text-anchor="start" font-style="normal" font-weight="normal" fill="#000" >0</text>
<path d="M41.87 292.70L40.65 292.70L40.65 284.74C39.84 285.48 38.49 286.09 37.26 286.38L37.26 285.21C39.03 284.60 40.25 283.66 41.06 283.03L41.87 283.03Z" fill="#000"/>
<text x="43.30" y="292.70" font-size="13.5" text-anchor="start" font-style="normal" font-weight="normal" fill="#000" >0</text>
<text x="51.30" y="285.60" font-size="8.0" text-anchor="start" font-style="normal" font-weight="normal" fill="#000" >5</text>
<text x="55.75" y="285.60" font-size="8.0" text-anchor="start" font-style="normal" font-weight="normal" fill="#000" >2</text>
<text x="328.30" y="310.00" font-size="13.5" text-anchor="middle" font-style="normal" font-weight="normal" fill="#000" stroke="#000" stroke-width="0.35">(c)</text>
<circle cx="81.80" cy="465.30" r="2.6" fill="#777"/>
<path d="M81.80 474.90L84.90 478.00L81.80 481.10L78.70 478.00Z" fill="#0000ff"/>
<polygon points="81.80,493.80 79.29,492.35 79.29,489.45 81.80,488.00 84.31,489.45 84.31,492.35" fill="#ff0000"/>
<text x="96.50" y="468.90" font-size="10.3" text-anchor="start" font-style="normal" font-weight="normal" fill="#000" >LGRBs</text>
<text x="96.50" y="481.60" font-size="10.3" text-anchor="start" font-style="normal" font-weight="normal" fill="#000" >SGRBs_Internal</text>
<text x="96.50" y="494.40" font-size="10.3" text-anchor="start" font-style="normal" font-weight="normal" fill="#000" >SGRBs_External</text>
<text x="194.20" y="546.90" font-size="17" text-anchor="start" font-style="italic" font-weight="normal" fill="#000" >t</text>
<text x="198.30" y="552.00" font-size="11" text-anchor="start" font-style="italic" font-weight="normal" fill="#000" >b</text>
<text x="208.80" y="546.90" font-size="17" text-anchor="start" font-style="normal" font-weight="normal" fill="#000" >(s)</text>
<g transform="translate(16.5,427.5) rotate(-90)"><text x="0" y="0" font-size="17.5" font-style="italic">L</text><text x="10" y="6" font-size="11.5" font-style="italic">b</text><text x="19.5" y="0" font-size="17.5">(erg/s)</text></g>
</svg></body></html>
